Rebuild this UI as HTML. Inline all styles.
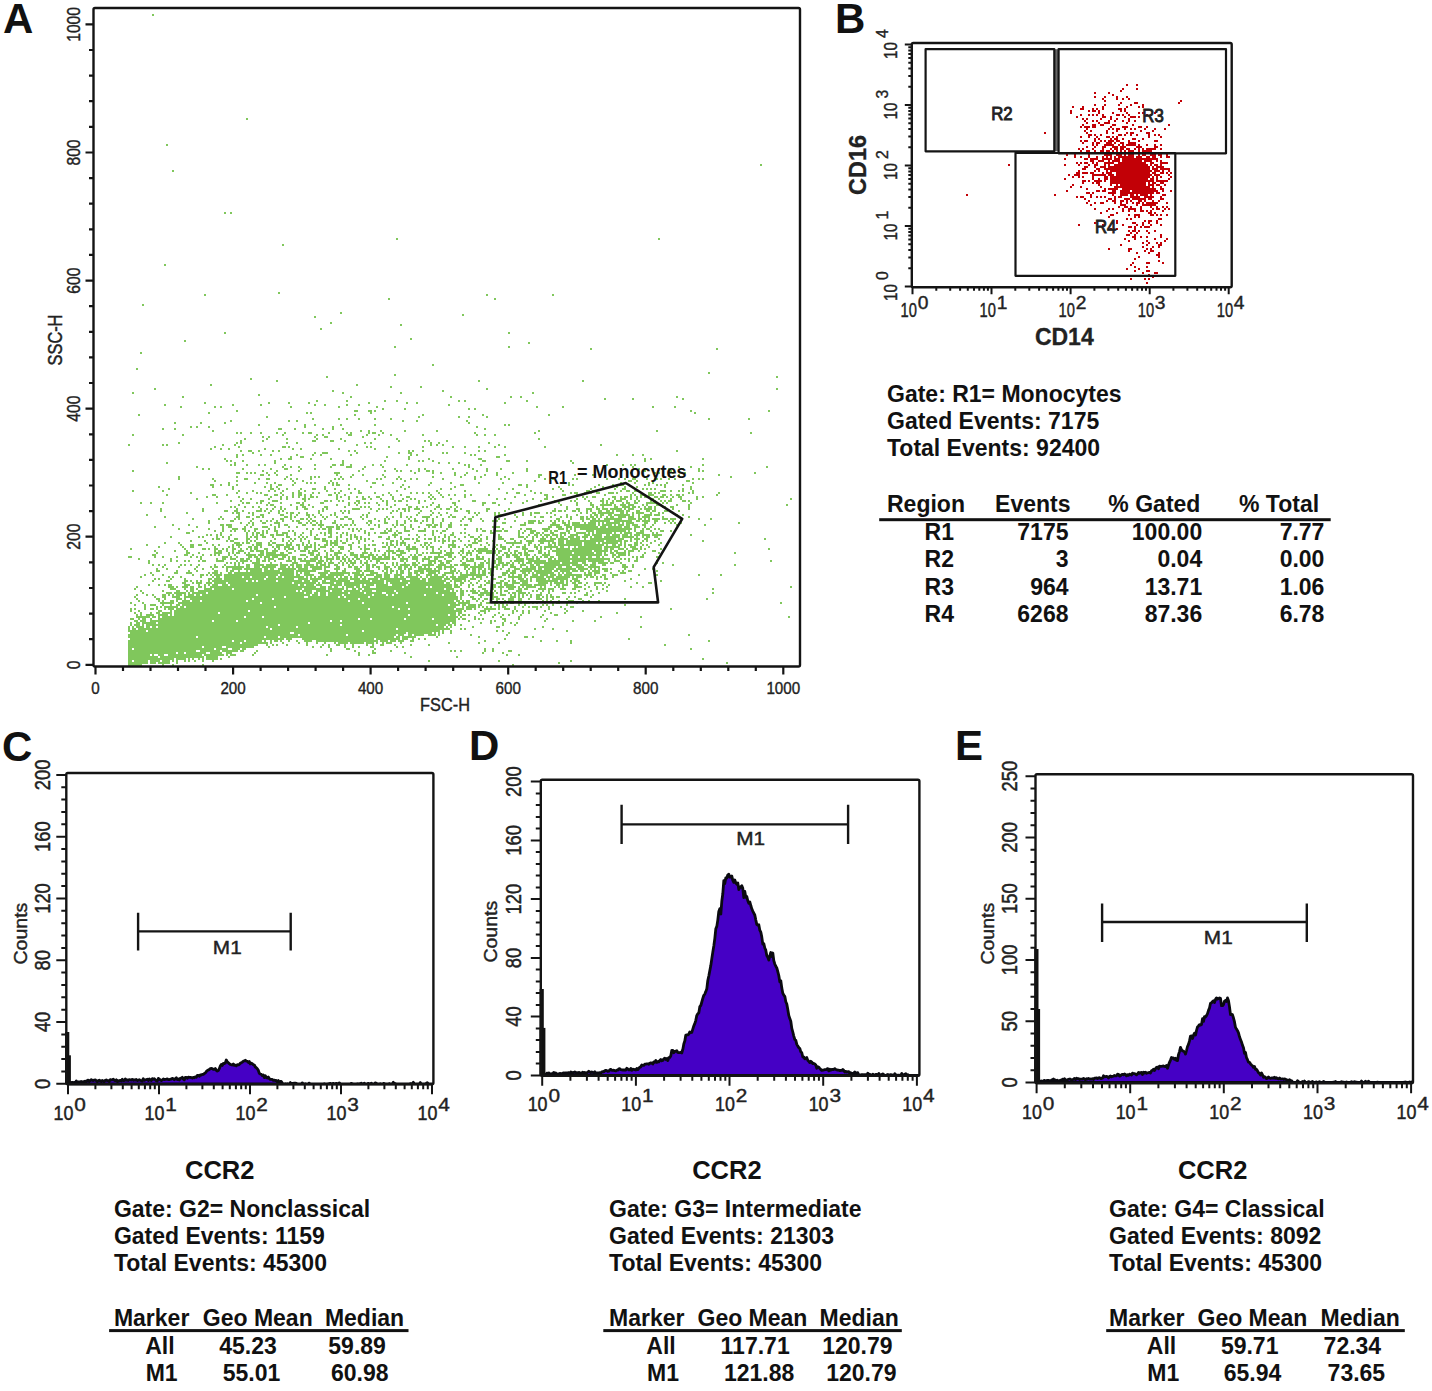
<!DOCTYPE html><html><head><meta charset="utf-8"><style>html,body{margin:0;padding:0;background:#fff;overflow:hidden}svg{display:block;font-family:"Liberation Sans",sans-serif}</style></head><body><svg width="1432" height="1391" viewBox="0 0 1432 1391" font-family="Liberation Sans, sans-serif"><rect width="1432" height="1391" fill="#fff"/><text x="3.0" y="33.3" font-size="42" font-weight="bold" text-anchor="start" fill="#111">A</text><text x="835.0" y="33.3" font-size="42" font-weight="bold" text-anchor="start" fill="#111">B</text><text x="2.0" y="760.5" font-size="42" font-weight="bold" text-anchor="start" fill="#111">C</text><text x="469.0" y="760.0" font-size="42" font-weight="bold" text-anchor="start" fill="#111">D</text><text x="955.0" y="760.0" font-size="42" font-weight="bold" text-anchor="start" fill="#111">E</text><path d="M600 526h6v2h-6zM608 526h6v2h-6zM592 528h24v2h-24zM588 530h6v2h-6zM596 530h20v2h-20zM584 532h2v2h-2zM588 532h2v2h-2zM592 532h2v2h-2zM596 532h16v2h-16zM614 532h2v2h-2zM584 534h6v2h-6zM592 534h10v2h-10zM606 534h4v2h-4zM612 534h2v2h-2zM576 536h4v2h-4zM582 536h6v2h-6zM590 536h2v2h-2zM594 536h8v2h-8zM604 536h10v2h-10zM574 538h6v2h-6zM584 538h2v2h-2zM590 538h22v2h-22zM572 540h32v2h-32zM606 540h4v2h-4zM568 542h14v2h-14zM584 542h12v2h-12zM598 542h2v2h-2zM602 542h6v2h-6zM566 544h16v2h-16zM584 544h20v2h-20zM606 544h2v2h-2zM568 546h2v2h-2zM574 546h2v2h-2zM578 546h24v2h-24zM604 546h2v2h-2zM562 548h8v2h-8zM572 548h30v2h-30zM562 550h30v2h-30zM594 550h6v2h-6zM560 552h12v2h-12zM574 552h20v2h-20zM596 552h2v2h-2zM558 554h38v2h-38zM558 556h12v2h-12zM572 556h6v2h-6zM580 556h6v2h-6zM588 556h4v2h-4zM558 558h32v2h-32zM556 560h14v2h-14zM572 560h14v2h-14zM556 562h4v2h-4zM562 562h16v2h-16zM558 564h12v2h-12zM572 564h4v2h-4zM566 566h2v2h-2zM278 568h6v2h-6zM258 570h4v2h-4zM264 570h16v2h-16zM282 570h8v2h-8zM250 572h44v2h-44zM244 574h34v2h-34zM280 574h14v2h-14zM296 574h2v2h-2zM236 576h6v2h-6zM244 576h6v2h-6zM252 576h14v2h-14zM268 576h8v2h-8zM278 576h4v2h-4zM284 576h20v2h-20zM230 578h34v2h-34zM266 578h28v2h-28zM298 578h2v2h-2zM424 578h2v2h-2zM428 578h14v2h-14zM226 580h20v2h-20zM248 580h4v2h-4zM254 580h2v2h-2zM258 580h18v2h-18zM278 580h24v2h-24zM408 580h18v2h-18zM428 580h18v2h-18zM450 580h2v2h-2zM220 582h6v2h-6zM228 582h64v2h-64zM294 582h12v2h-12zM390 582h18v2h-18zM410 582h34v2h-34zM446 582h2v2h-2zM216 584h2v2h-2zM222 584h6v2h-6zM230 584h68v2h-68zM300 584h4v2h-4zM306 584h2v2h-2zM362 584h2v2h-2zM366 584h8v2h-8zM376 584h12v2h-12zM392 584h14v2h-14zM408 584h42v2h-42zM212 586h100v2h-100zM376 586h26v2h-26zM404 586h22v2h-22zM428 586h2v2h-2zM432 586h18v2h-18zM206 588h6v2h-6zM214 588h18v2h-18zM234 588h68v2h-68zM304 588h10v2h-10zM358 588h4v2h-4zM364 588h80v2h-80zM446 588h4v2h-4zM202 590h94v2h-94zM298 590h2v2h-2zM302 590h10v2h-10zM316 590h4v2h-4zM346 590h14v2h-14zM362 590h10v2h-10zM376 590h18v2h-18zM396 590h54v2h-54zM196 592h10v2h-10zM208 592h96v2h-96zM306 592h6v2h-6zM314 592h4v2h-4zM320 592h6v2h-6zM338 592h10v2h-10zM350 592h14v2h-14zM366 592h16v2h-16zM386 592h10v2h-10zM398 592h38v2h-38zM438 592h14v2h-14zM192 594h2v2h-2zM196 594h4v2h-4zM202 594h54v2h-54zM258 594h52v2h-52zM312 594h6v2h-6zM320 594h6v2h-6zM328 594h14v2h-14zM344 594h28v2h-28zM374 594h12v2h-12zM388 594h4v2h-4zM394 594h30v2h-30zM426 594h16v2h-16zM444 594h12v2h-12zM188 596h96v2h-96zM286 596h18v2h-18zM308 596h30v2h-30zM340 596h4v2h-4zM346 596h22v2h-22zM370 596h86v2h-86zM190 598h62v2h-62zM254 598h18v2h-18zM274 598h84v2h-84zM360 598h96v2h-96zM182 600h8v2h-8zM192 600h8v2h-8zM202 600h44v2h-44zM248 600h100v2h-100zM350 600h104v2h-104zM178 602h82v2h-82zM262 602h100v2h-100zM364 602h42v2h-42zM408 602h48v2h-48zM176 604h4v2h-4zM182 604h266v2h-266zM450 604h8v2h-8zM172 606h6v2h-6zM180 606h4v2h-4zM186 606h88v2h-88zM276 606h116v2h-116zM394 606h62v2h-62zM168 608h6v2h-6zM176 608h192v2h-192zM370 608h28v2h-28zM400 608h8v2h-8zM410 608h44v2h-44zM456 608h2v2h-2zM170 610h2v2h-2zM174 610h74v2h-74zM250 610h208v2h-208zM164 612h8v2h-8zM174 612h44v2h-44zM220 612h234v2h-234zM160 614h8v2h-8zM170 614h2v2h-2zM174 614h234v2h-234zM410 614h38v2h-38zM450 614h4v2h-4zM158 616h2v2h-2zM162 616h82v2h-82zM246 616h16v2h-16zM264 616h190v2h-190zM158 618h200v2h-200zM360 618h10v2h-10zM372 618h32v2h-32zM406 618h26v2h-26zM434 618h18v2h-18zM152 620h60v2h-60zM214 620h22v2h-22zM238 620h92v2h-92zM332 620h8v2h-8zM342 620h110v2h-110zM148 622h8v2h-8zM158 622h150v2h-150zM310 622h140v2h-140zM142 624h2v2h-2zM146 624h132v2h-132zM280 624h60v2h-60zM342 624h94v2h-94zM438 624h8v2h-8zM448 624h2v2h-2zM138 626h6v2h-6zM146 626h4v2h-4zM152 626h4v2h-4zM158 626h108v2h-108zM268 626h28v2h-28zM298 626h146v2h-146zM446 626h2v2h-2zM138 628h132v2h-132zM272 628h124v2h-124zM398 628h50v2h-50zM132 630h14v2h-14zM148 630h214v2h-214zM364 630h76v2h-76zM130 632h160v2h-160zM294 632h112v2h-112zM408 632h22v2h-22zM128 634h170v2h-170zM300 634h46v2h-46zM348 634h48v2h-48zM398 634h6v2h-6zM408 634h4v2h-4zM414 634h8v2h-8zM128 636h68v2h-68zM198 636h66v2h-66zM266 636h12v2h-12zM280 636h114v2h-114zM396 636h4v2h-4zM402 636h14v2h-14zM130 638h152v2h-152zM302 638h72v2h-72zM376 638h24v2h-24zM402 638h6v2h-6zM128 640h104v2h-104zM234 640h10v2h-10zM246 640h16v2h-16zM264 640h2v2h-2zM270 640h2v2h-2zM316 640h62v2h-62zM380 640h8v2h-8zM390 640h6v2h-6zM398 640h4v2h-4zM128 642h112v2h-112zM242 642h22v2h-22zM344 642h4v2h-4zM350 642h14v2h-14zM366 642h8v2h-8zM128 644h130v2h-130zM128 646h74v2h-74zM204 646h18v2h-18zM226 646h26v2h-26zM128 648h4v2h-4zM134 648h80v2h-80zM216 648h12v2h-12zM232 648h8v2h-8zM242 648h4v2h-4zM128 650h68v2h-68zM200 650h20v2h-20zM222 650h16v2h-16zM128 652h48v2h-48zM178 652h6v2h-6zM186 652h20v2h-20zM210 652h12v2h-12zM226 652h6v2h-6zM128 654h22v2h-22zM152 654h2v2h-2zM158 654h6v2h-6zM168 654h34v2h-34zM204 654h20v2h-20zM128 656h30v2h-30zM160 656h44v2h-44zM206 656h12v2h-12zM128 658h46v2h-46zM176 658h10v2h-10zM128 660h4v2h-4zM134 660h14v2h-14zM150 660h10v2h-10zM162 660h8v2h-8zM128 662h20v2h-20zM150 662h4v2h-4zM128 664h14v2h-14z" fill="#80c75c" shape-rendering="crispEdges"/><path d="M152 14h2v2h-2zM246 118h2v2h-2zM166 144h2v2h-2zM760 164h2v2h-2zM172 170h2v2h-2zM224 212h2v2h-2zM230 212h2v2h-2zM396 238h2v2h-2zM658 238h2v2h-2zM282 244h2v2h-2zM164 264h2v2h-2zM278 292h2v2h-2zM204 294h2v2h-2zM486 294h2v2h-2zM552 294h2v2h-2zM388 298h2v2h-2zM494 298h2v2h-2zM142 304h2v2h-2zM340 312h2v2h-2zM462 314h2v2h-2zM314 316h2v2h-2zM330 322h2v2h-2zM400 324h2v2h-2zM320 328h2v2h-2zM224 332h2v2h-2zM508 332h2v2h-2zM410 338h2v2h-2zM184 340h2v2h-2zM528 342h2v2h-2zM394 346h2v2h-2zM508 346h2v2h-2zM590 348h2v2h-2zM716 348h2v2h-2zM140 352h2v2h-2zM432 364h2v2h-2zM136 368h2v2h-2zM708 372h2v2h-2zM394 374h2v2h-2zM326 376h2v2h-2zM776 376h2v2h-2zM250 378h2v2h-2zM276 380h2v2h-2zM478 380h2v2h-2zM582 380h2v2h-2zM210 384h2v2h-2zM356 384h2v2h-2zM390 386h2v2h-2zM420 386h2v2h-2zM154 388h2v2h-2zM486 388h2v2h-2zM776 388h2v2h-2zM332 390h2v2h-2zM442 390h2v2h-2zM132 392h2v2h-2zM342 392h2v2h-2zM400 392h2v2h-2zM532 392h2v2h-2zM258 394h2v2h-2zM182 396h2v2h-2zM350 396h2v2h-2zM450 396h2v2h-2zM510 396h2v2h-2zM520 396h2v2h-2zM676 396h2v2h-2zM604 398h2v2h-2zM632 398h2v2h-2zM682 398h2v2h-2zM316 400h2v2h-2zM346 400h2v2h-2zM384 400h2v2h-2zM396 400h2v2h-2zM458 400h2v2h-2zM464 400h2v2h-2zM526 400h2v2h-2zM204 402h2v2h-2zM268 402h2v2h-2zM288 402h2v2h-2zM308 402h2v2h-2zM368 402h2v2h-2zM406 402h2v2h-2zM416 402h2v2h-2zM504 402h2v2h-2zM164 404h2v2h-2zM232 404h2v2h-2zM260 404h2v2h-2zM314 404h2v2h-2zM324 404h2v2h-2zM346 404h2v2h-2zM358 404h2v2h-2zM448 404h2v2h-2zM180 406h2v2h-2zM214 406h2v2h-2zM220 406h2v2h-2zM290 406h2v2h-2zM338 406h2v2h-2zM376 406h2v2h-2zM536 406h2v2h-2zM562 406h2v2h-2zM652 406h2v2h-2zM674 406h2v2h-2zM382 408h2v2h-2zM404 408h2v2h-2zM468 408h2v2h-2zM474 408h2v2h-2zM236 410h2v2h-2zM354 410h4v2h-4zM368 410h4v2h-4zM374 410h2v2h-2zM690 410h2v2h-2zM768 410h2v2h-2zM208 412h2v2h-2zM306 412h2v2h-2zM310 412h2v2h-2zM370 412h2v2h-2zM694 412h2v2h-2zM138 414h2v2h-2zM354 414h2v2h-2zM422 414h2v2h-2zM482 414h2v2h-2zM548 414h2v2h-2zM266 416h2v2h-2zM418 416h2v2h-2zM458 416h2v2h-2zM468 416h2v2h-2zM486 416h2v2h-2zM312 418h2v2h-2zM338 418h2v2h-2zM346 418h2v2h-2zM358 418h2v2h-2zM374 418h2v2h-2zM390 418h2v2h-2zM708 418h2v2h-2zM748 418h2v2h-2zM230 420h2v2h-2zM288 420h2v2h-2zM296 420h2v2h-2zM402 420h2v2h-2zM416 420h2v2h-2zM466 420h2v2h-2zM174 422h2v2h-2zM200 422h2v2h-2zM224 422h2v2h-2zM468 422h2v2h-2zM258 424h2v2h-2zM304 424h2v2h-2zM314 424h2v2h-2zM340 424h2v2h-2zM374 424h2v2h-2zM504 424h2v2h-2zM508 424h2v2h-2zM190 426h2v2h-2zM196 426h2v2h-2zM208 426h2v2h-2zM304 426h2v2h-2zM332 426h2v2h-2zM476 426h2v2h-2zM162 428h2v2h-2zM174 428h2v2h-2zM278 428h4v2h-4zM294 428h2v2h-2zM322 428h2v2h-2zM332 428h2v2h-2zM342 428h2v2h-2zM484 428h2v2h-2zM212 430h2v2h-2zM360 430h2v2h-2zM368 430h2v2h-2zM380 430h2v2h-2zM404 430h2v2h-2zM436 430h2v2h-2zM538 430h2v2h-2zM656 430h2v2h-2zM236 432h2v2h-2zM240 432h2v2h-2zM250 432h2v2h-2zM260 432h2v2h-2zM276 432h2v2h-2zM284 432h2v2h-2zM302 432h2v2h-2zM308 432h4v2h-4zM328 432h2v2h-2zM346 432h2v2h-2zM350 432h2v2h-2zM368 432h2v2h-2zM372 432h4v2h-4zM382 432h2v2h-2zM474 432h2v2h-2zM534 432h2v2h-2zM750 432h2v2h-2zM132 434h2v2h-2zM182 434h2v2h-2zM282 434h2v2h-2zM316 434h2v2h-2zM322 434h2v2h-2zM348 434h4v2h-4zM366 434h2v2h-2zM378 434h2v2h-2zM390 434h2v2h-2zM422 434h2v2h-2zM476 434h2v2h-2zM484 434h2v2h-2zM494 434h2v2h-2zM262 436h2v2h-2zM268 436h2v2h-2zM314 436h2v2h-2zM324 436h4v2h-4zM362 436h2v2h-2zM244 438h2v2h-2zM266 438h2v2h-2zM286 438h2v2h-2zM316 438h2v2h-2zM340 438h2v2h-2zM374 438h2v2h-2zM396 438h2v2h-2zM538 438h2v2h-2zM240 440h2v2h-2zM262 440h2v2h-2zM312 440h4v2h-4zM330 440h4v2h-4zM344 440h2v2h-2zM398 440h2v2h-2zM424 440h2v2h-2zM428 440h2v2h-2zM446 440h2v2h-2zM178 442h2v2h-2zM236 442h2v2h-2zM240 442h2v2h-2zM286 442h2v2h-2zM296 442h2v2h-2zM364 442h2v2h-2zM370 442h2v2h-2zM430 442h2v2h-2zM438 442h2v2h-2zM488 442h2v2h-2zM128 444h2v2h-2zM162 444h2v2h-2zM166 444h2v2h-2zM222 444h2v2h-2zM234 444h2v2h-2zM356 444h2v2h-2zM430 444h2v2h-2zM436 444h2v2h-2zM442 444h2v2h-2zM498 444h2v2h-2zM600 444h2v2h-2zM214 446h2v2h-2zM238 446h2v2h-2zM282 446h4v2h-4zM288 446h2v2h-2zM366 446h2v2h-2zM370 446h2v2h-2zM388 446h2v2h-2zM422 446h2v2h-2zM452 446h2v2h-2zM464 446h2v2h-2zM478 446h2v2h-2zM494 446h2v2h-2zM504 446h2v2h-2zM544 446h2v2h-2zM210 448h2v2h-2zM220 448h2v2h-2zM228 448h2v2h-2zM264 448h2v2h-2zM292 448h2v2h-2zM300 448h2v2h-2zM338 448h2v2h-2zM374 448h2v2h-2zM240 450h2v2h-2zM248 450h4v2h-4zM258 450h2v2h-2zM272 450h2v2h-2zM278 450h2v2h-2zM348 450h2v2h-2zM354 450h2v2h-2zM408 450h2v2h-2zM412 450h2v2h-2zM422 450h2v2h-2zM478 450h2v2h-2zM484 450h2v2h-2zM676 450h2v2h-2zM252 452h2v2h-2zM314 452h2v2h-2zM322 452h6v2h-6zM356 452h2v2h-2zM398 452h2v2h-2zM408 452h4v2h-4zM442 452h2v2h-2zM446 452h2v2h-2zM464 452h2v2h-2zM236 454h2v2h-2zM242 454h2v2h-2zM260 454h2v2h-2zM270 454h2v2h-2zM296 454h2v2h-2zM312 454h2v2h-2zM320 454h2v2h-2zM350 454h2v2h-2zM410 454h2v2h-2zM416 454h2v2h-2zM470 454h2v2h-2zM474 454h2v2h-2zM504 454h2v2h-2zM616 454h2v2h-2zM632 454h2v2h-2zM642 454h2v2h-2zM236 456h2v2h-2zM290 456h2v2h-2zM300 456h4v2h-4zM386 456h2v2h-2zM408 456h2v2h-2zM496 456h4v2h-4zM224 458h2v2h-2zM280 458h2v2h-2zM288 458h4v2h-4zM310 458h2v2h-2zM330 458h2v2h-2zM408 458h2v2h-2zM428 458h2v2h-2zM478 458h4v2h-4zM644 458h2v2h-2zM650 458h2v2h-2zM702 458h2v2h-2zM226 460h2v2h-2zM230 460h2v2h-2zM242 460h2v2h-2zM274 460h2v2h-2zM342 460h2v2h-2zM384 460h2v2h-2zM418 460h2v2h-2zM422 460h2v2h-2zM432 460h2v2h-2zM482 460h4v2h-4zM506 460h4v2h-4zM526 460h2v2h-2zM570 460h2v2h-2zM644 460h2v2h-2zM166 462h2v2h-2zM234 462h2v2h-2zM274 462h2v2h-2zM342 462h2v2h-2zM438 462h2v2h-2zM448 462h2v2h-2zM458 462h2v2h-2zM572 462h2v2h-2zM230 464h2v2h-2zM234 464h2v2h-2zM246 464h2v2h-2zM258 464h2v2h-2zM264 464h2v2h-2zM284 464h2v2h-2zM314 464h2v2h-2zM332 464h4v2h-4zM340 464h4v2h-4zM350 464h2v2h-2zM372 464h2v2h-2zM380 464h2v2h-2zM406 464h2v2h-2zM464 464h2v2h-2zM468 464h2v2h-2zM480 464h2v2h-2zM606 464h2v2h-2zM622 464h2v2h-2zM630 464h2v2h-2zM634 464h2v2h-2zM702 464h2v2h-2zM196 466h2v2h-2zM282 466h2v2h-2zM290 466h2v2h-2zM298 466h2v2h-2zM330 466h2v2h-2zM346 466h6v2h-6zM364 466h2v2h-2zM382 466h2v2h-2zM468 466h2v2h-2zM632 466h2v2h-2zM678 466h2v2h-2zM690 466h2v2h-2zM766 466h2v2h-2zM202 468h2v2h-2zM208 468h2v2h-2zM242 468h2v2h-2zM270 468h2v2h-2zM284 468h4v2h-4zM300 468h2v2h-2zM314 468h2v2h-2zM362 468h2v2h-2zM394 468h2v2h-2zM418 468h2v2h-2zM424 468h2v2h-2zM452 468h2v2h-2zM472 468h2v2h-2zM486 468h2v2h-2zM500 468h2v2h-2zM526 468h2v2h-2zM638 468h2v2h-2zM644 468h2v2h-2zM652 468h2v2h-2zM668 468h2v2h-2zM682 468h2v2h-2zM698 468h2v2h-2zM132 470h2v2h-2zM262 470h2v2h-2zM276 470h2v2h-2zM298 470h2v2h-2zM358 470h2v2h-2zM384 470h2v2h-2zM396 470h2v2h-2zM400 470h2v2h-2zM410 470h2v2h-2zM418 470h2v2h-2zM426 470h4v2h-4zM432 470h2v2h-2zM476 470h2v2h-2zM486 470h2v2h-2zM526 470h2v2h-2zM642 470h4v2h-4zM668 470h4v2h-4zM698 470h2v2h-2zM702 470h2v2h-2zM236 472h4v2h-4zM246 472h2v2h-2zM250 472h2v2h-2zM254 472h2v2h-2zM266 472h2v2h-2zM274 472h2v2h-2zM334 472h6v2h-6zM414 472h2v2h-2zM432 472h2v2h-2zM440 472h2v2h-2zM454 472h2v2h-2zM466 472h2v2h-2zM496 472h2v2h-2zM512 472h2v2h-2zM630 472h2v2h-2zM654 472h2v2h-2zM658 472h2v2h-2zM672 472h2v2h-2zM684 472h2v2h-2zM754 472h2v2h-2zM260 474h4v2h-4zM268 474h2v2h-2zM276 474h2v2h-2zM290 474h2v2h-2zM336 474h2v2h-2zM352 474h2v2h-2zM362 474h2v2h-2zM382 474h2v2h-2zM454 474h2v2h-2zM464 474h2v2h-2zM484 474h2v2h-2zM496 474h2v2h-2zM538 474h4v2h-4zM574 474h2v2h-2zM592 474h2v2h-2zM668 474h2v2h-2zM678 474h2v2h-2zM718 474h2v2h-2zM178 476h2v2h-2zM236 476h2v2h-2zM286 476h2v2h-2zM310 476h2v2h-2zM314 476h2v2h-2zM318 476h2v2h-2zM340 476h2v2h-2zM350 476h2v2h-2zM384 476h2v2h-2zM398 476h2v2h-2zM432 476h2v2h-2zM460 476h2v2h-2zM474 476h2v2h-2zM480 476h2v2h-2zM504 476h2v2h-2zM538 476h2v2h-2zM644 476h2v2h-2zM730 476h2v2h-2zM178 478h2v2h-2zM212 478h2v2h-2zM244 478h4v2h-4zM258 478h2v2h-2zM266 478h4v2h-4zM284 478h2v2h-2zM290 478h2v2h-2zM296 478h2v2h-2zM310 478h2v2h-2zM334 478h2v2h-2zM338 478h2v2h-2zM342 478h2v2h-2zM376 478h2v2h-2zM380 478h2v2h-2zM396 478h2v2h-2zM400 478h2v2h-2zM410 478h2v2h-2zM416 478h2v2h-2zM442 478h2v2h-2zM474 478h2v2h-2zM500 478h2v2h-2zM508 478h2v2h-2zM544 478h2v2h-2zM552 478h2v2h-2zM572 478h2v2h-2zM576 478h2v2h-2zM606 478h2v2h-2zM618 478h2v2h-2zM624 478h2v2h-2zM632 478h4v2h-4zM646 478h2v2h-2zM654 478h4v2h-4zM660 478h2v2h-2zM668 478h2v2h-2zM674 478h2v2h-2zM692 478h2v2h-2zM698 478h2v2h-2zM702 478h2v2h-2zM214 480h2v2h-2zM236 480h2v2h-2zM292 480h2v2h-2zM302 480h2v2h-2zM330 480h2v2h-2zM366 480h2v2h-2zM404 480h2v2h-2zM534 480h2v2h-2zM628 480h4v2h-4zM636 480h2v2h-2zM686 480h4v2h-4zM228 482h2v2h-2zM254 482h2v2h-2zM266 482h2v2h-2zM274 482h2v2h-2zM294 482h2v2h-2zM306 482h2v2h-2zM310 482h2v2h-2zM314 482h2v2h-2zM328 482h2v2h-2zM332 482h2v2h-2zM336 482h2v2h-2zM372 482h4v2h-4zM392 482h2v2h-2zM430 482h2v2h-2zM450 482h2v2h-2zM478 482h2v2h-2zM502 482h2v2h-2zM568 482h2v2h-2zM620 482h2v2h-2zM634 482h2v2h-2zM648 482h2v2h-2zM652 482h2v2h-2zM666 482h2v2h-2zM692 482h2v2h-2zM210 484h4v2h-4zM220 484h2v2h-2zM228 484h2v2h-2zM236 484h2v2h-2zM270 484h2v2h-2zM278 484h4v2h-4zM292 484h2v2h-2zM332 484h2v2h-2zM336 484h4v2h-4zM348 484h2v2h-2zM382 484h2v2h-2zM402 484h2v2h-2zM428 484h2v2h-2zM460 484h4v2h-4zM518 484h4v2h-4zM526 484h2v2h-2zM568 484h2v2h-2zM572 484h2v2h-2zM598 484h2v2h-2zM612 484h2v2h-2zM620 484h4v2h-4zM644 484h2v2h-2zM648 484h2v2h-2zM656 484h2v2h-2zM660 484h2v2h-2zM664 484h2v2h-2zM682 484h2v2h-2zM158 486h2v2h-2zM212 486h2v2h-2zM232 486h2v2h-2zM264 486h2v2h-2zM270 486h2v2h-2zM276 486h2v2h-2zM324 486h2v2h-2zM370 486h2v2h-2zM400 486h2v2h-2zM408 486h2v2h-2zM454 486h2v2h-2zM526 486h2v2h-2zM558 486h2v2h-2zM594 486h2v2h-2zM602 486h2v2h-2zM616 486h2v2h-2zM624 486h2v2h-2zM636 486h2v2h-2zM664 486h2v2h-2zM690 486h2v2h-2zM168 488h2v2h-2zM232 488h2v2h-2zM270 488h4v2h-4zM278 488h2v2h-2zM286 488h2v2h-2zM300 488h2v2h-2zM312 488h4v2h-4zM324 488h2v2h-2zM334 488h2v2h-2zM348 488h2v2h-2zM354 488h2v2h-2zM404 488h2v2h-2zM440 488h2v2h-2zM450 488h2v2h-2zM498 488h2v2h-2zM512 488h2v2h-2zM552 488h2v2h-2zM560 488h2v2h-2zM590 488h2v2h-2zM614 488h2v2h-2zM622 488h4v2h-4zM642 488h2v2h-2zM646 488h2v2h-2zM650 488h2v2h-2zM654 488h2v2h-2zM682 488h2v2h-2zM690 488h2v2h-2zM132 490h2v2h-2zM162 490h2v2h-2zM238 490h2v2h-2zM252 490h2v2h-2zM268 490h2v2h-2zM274 490h2v2h-2zM282 490h2v2h-2zM298 490h2v2h-2zM304 490h2v2h-2zM326 490h2v2h-2zM340 490h2v2h-2zM358 490h2v2h-2zM396 490h2v2h-2zM436 490h2v2h-2zM464 490h2v2h-2zM530 490h2v2h-2zM562 490h2v2h-2zM586 490h4v2h-4zM592 490h2v2h-2zM620 490h2v2h-2zM626 490h4v2h-4zM634 490h4v2h-4zM660 490h6v2h-6zM670 490h2v2h-2zM678 490h2v2h-2zM682 490h2v2h-2zM692 490h2v2h-2zM190 492h2v2h-2zM236 492h2v2h-2zM246 492h2v2h-2zM256 492h2v2h-2zM260 492h2v2h-2zM280 492h2v2h-2zM292 492h2v2h-2zM298 492h4v2h-4zM312 492h2v2h-2zM318 492h2v2h-2zM334 492h2v2h-2zM338 492h2v2h-2zM350 492h2v2h-2zM358 492h4v2h-4zM374 492h2v2h-2zM388 492h2v2h-2zM410 492h2v2h-2zM416 492h2v2h-2zM422 492h2v2h-2zM428 492h2v2h-2zM438 492h2v2h-2zM506 492h2v2h-2zM516 492h4v2h-4zM534 492h2v2h-2zM540 492h2v2h-2zM570 492h2v2h-2zM574 492h4v2h-4zM584 492h2v2h-2zM590 492h2v2h-2zM596 492h4v2h-4zM608 492h6v2h-6zM616 492h2v2h-2zM632 492h2v2h-2zM648 492h4v2h-4zM654 492h2v2h-2zM658 492h2v2h-2zM688 492h2v2h-2zM692 492h2v2h-2zM718 492h2v2h-2zM166 494h2v2h-2zM212 494h4v2h-4zM226 494h2v2h-2zM264 494h4v2h-4zM274 494h4v2h-4zM282 494h2v2h-2zM292 494h2v2h-2zM298 494h4v2h-4zM304 494h2v2h-2zM310 494h2v2h-2zM328 494h4v2h-4zM336 494h2v2h-2zM344 494h2v2h-2zM382 494h2v2h-2zM390 494h2v2h-2zM400 494h2v2h-2zM430 494h2v2h-2zM440 494h2v2h-2zM448 494h2v2h-2zM454 494h2v2h-2zM464 494h2v2h-2zM470 494h2v2h-2zM488 494h2v2h-2zM524 494h2v2h-2zM544 494h4v2h-4zM562 494h4v2h-4zM576 494h2v2h-2zM604 494h2v2h-2zM630 494h2v2h-2zM634 494h2v2h-2zM640 494h6v2h-6zM648 494h6v2h-6zM662 494h4v2h-4zM670 494h2v2h-2zM676 494h4v2h-4zM682 494h2v2h-2zM716 494h2v2h-2zM206 496h2v2h-2zM216 496h2v2h-2zM238 496h2v2h-2zM270 496h2v2h-2zM280 496h2v2h-2zM286 496h2v2h-2zM292 496h2v2h-2zM298 496h2v2h-2zM304 496h2v2h-2zM310 496h4v2h-4zM316 496h2v2h-2zM336 496h2v2h-2zM340 496h2v2h-2zM348 496h2v2h-2zM356 496h2v2h-2zM362 496h2v2h-2zM368 496h2v2h-2zM376 496h4v2h-4zM392 496h2v2h-2zM406 496h4v2h-4zM428 496h2v2h-2zM432 496h2v2h-2zM442 496h2v2h-2zM464 496h2v2h-2zM514 496h2v2h-2zM546 496h2v2h-2zM552 496h2v2h-2zM582 496h2v2h-2zM586 496h2v2h-2zM592 496h4v2h-4zM612 496h4v2h-4zM620 496h2v2h-2zM624 496h4v2h-4zM630 496h2v2h-2zM636 496h2v2h-2zM640 496h2v2h-2zM644 496h6v2h-6zM654 496h4v2h-4zM660 496h4v2h-4zM666 496h2v2h-2zM672 496h2v2h-2zM678 496h4v2h-4zM696 496h2v2h-2zM702 496h2v2h-2zM196 498h2v2h-2zM242 498h2v2h-2zM250 498h2v2h-2zM268 498h2v2h-2zM280 498h2v2h-2zM286 498h2v2h-2zM302 498h4v2h-4zM308 498h2v2h-2zM336 498h2v2h-2zM348 498h2v2h-2zM362 498h4v2h-4zM370 498h2v2h-2zM380 498h2v2h-2zM392 498h2v2h-2zM402 498h2v2h-2zM410 498h2v2h-2zM414 498h2v2h-2zM430 498h2v2h-2zM434 498h2v2h-2zM450 498h2v2h-2zM496 498h2v2h-2zM504 498h2v2h-2zM532 498h2v2h-2zM544 498h4v2h-4zM576 498h2v2h-2zM584 498h2v2h-2zM602 498h2v2h-2zM608 498h2v2h-2zM614 498h2v2h-2zM620 498h6v2h-6zM630 498h2v2h-2zM636 498h2v2h-2zM652 498h2v2h-2zM658 498h2v2h-2zM670 498h2v2h-2zM680 498h2v2h-2zM696 498h2v2h-2zM790 498h2v2h-2zM230 500h2v2h-2zM240 500h2v2h-2zM260 500h4v2h-4zM272 500h6v2h-6zM304 500h2v2h-2zM324 500h4v2h-4zM330 500h2v2h-2zM338 500h2v2h-2zM342 500h2v2h-2zM356 500h4v2h-4zM382 500h2v2h-2zM386 500h2v2h-2zM394 500h2v2h-2zM398 500h4v2h-4zM406 500h2v2h-2zM418 500h2v2h-2zM424 500h2v2h-2zM458 500h2v2h-2zM472 500h4v2h-4zM526 500h2v2h-2zM540 500h2v2h-2zM554 500h2v2h-2zM570 500h2v2h-2zM574 500h2v2h-2zM588 500h2v2h-2zM600 500h4v2h-4zM606 500h2v2h-2zM612 500h2v2h-2zM616 500h6v2h-6zM626 500h2v2h-2zM634 500h2v2h-2zM638 500h2v2h-2zM650 500h2v2h-2zM654 500h2v2h-2zM660 500h2v2h-2zM664 500h2v2h-2zM668 500h4v2h-4zM682 500h4v2h-4zM688 500h2v2h-2zM140 502h2v2h-2zM150 502h2v2h-2zM162 502h2v2h-2zM216 502h2v2h-2zM242 502h2v2h-2zM246 502h4v2h-4zM256 502h2v2h-2zM260 502h2v2h-2zM268 502h2v2h-2zM280 502h2v2h-2zM296 502h4v2h-4zM302 502h2v2h-2zM320 502h4v2h-4zM348 502h2v2h-2zM354 502h2v2h-2zM358 502h2v2h-2zM364 502h2v2h-2zM368 502h2v2h-2zM376 502h2v2h-2zM386 502h2v2h-2zM418 502h2v2h-2zM432 502h2v2h-2zM452 502h4v2h-4zM482 502h4v2h-4zM492 502h4v2h-4zM510 502h2v2h-2zM522 502h2v2h-2zM558 502h2v2h-2zM576 502h2v2h-2zM590 502h2v2h-2zM602 502h2v2h-2zM606 502h2v2h-2zM610 502h4v2h-4zM622 502h2v2h-2zM626 502h4v2h-4zM634 502h4v2h-4zM646 502h12v2h-12zM662 502h2v2h-2zM666 502h2v2h-2zM690 502h2v2h-2zM238 504h2v2h-2zM266 504h2v2h-2zM270 504h4v2h-4zM290 504h2v2h-2zM300 504h4v2h-4zM308 504h2v2h-2zM336 504h2v2h-2zM348 504h2v2h-2zM356 504h2v2h-2zM378 504h2v2h-2zM386 504h2v2h-2zM394 504h2v2h-2zM406 504h2v2h-2zM430 504h2v2h-2zM438 504h2v2h-2zM454 504h2v2h-2zM482 504h2v2h-2zM498 504h2v2h-2zM538 504h2v2h-2zM560 504h2v2h-2zM576 504h2v2h-2zM590 504h4v2h-4zM600 504h12v2h-12zM614 504h2v2h-2zM620 504h6v2h-6zM628 504h6v2h-6zM642 504h2v2h-2zM646 504h2v2h-2zM656 504h6v2h-6zM676 504h2v2h-2zM688 504h2v2h-2zM786 504h2v2h-2zM230 506h2v2h-2zM234 506h2v2h-2zM244 506h2v2h-2zM252 506h2v2h-2zM258 506h2v2h-2zM274 506h2v2h-2zM280 506h2v2h-2zM296 506h2v2h-2zM302 506h4v2h-4zM312 506h2v2h-2zM324 506h4v2h-4zM344 506h2v2h-2zM360 506h2v2h-2zM364 506h2v2h-2zM368 506h2v2h-2zM390 506h2v2h-2zM408 506h4v2h-4zM416 506h2v2h-2zM422 506h2v2h-2zM426 506h2v2h-2zM436 506h4v2h-4zM450 506h2v2h-2zM456 506h2v2h-2zM566 506h2v2h-2zM592 506h2v2h-2zM596 506h2v2h-2zM602 506h2v2h-2zM614 506h4v2h-4zM622 506h8v2h-8zM632 506h4v2h-4zM638 506h2v2h-2zM644 506h2v2h-2zM648 506h4v2h-4zM654 506h2v2h-2zM662 506h4v2h-4zM670 506h4v2h-4zM688 506h2v2h-2zM160 508h2v2h-2zM202 508h2v2h-2zM236 508h2v2h-2zM260 508h2v2h-2zM266 508h2v2h-2zM272 508h2v2h-2zM280 508h2v2h-2zM284 508h2v2h-2zM296 508h2v2h-2zM304 508h4v2h-4zM322 508h2v2h-2zM326 508h2v2h-2zM352 508h8v2h-8zM370 508h2v2h-2zM378 508h2v2h-2zM382 508h2v2h-2zM386 508h2v2h-2zM398 508h2v2h-2zM402 508h4v2h-4zM408 508h2v2h-2zM414 508h6v2h-6zM434 508h2v2h-2zM440 508h2v2h-2zM446 508h4v2h-4zM454 508h2v2h-2zM460 508h2v2h-2zM486 508h4v2h-4zM508 508h2v2h-2zM554 508h2v2h-2zM566 508h2v2h-2zM576 508h4v2h-4zM586 508h6v2h-6zM596 508h4v2h-4zM602 508h6v2h-6zM610 508h12v2h-12zM624 508h2v2h-2zM628 508h6v2h-6zM640 508h2v2h-2zM644 508h8v2h-8zM654 508h2v2h-2zM672 508h2v2h-2zM688 508h2v2h-2zM160 510h2v2h-2zM202 510h2v2h-2zM224 510h4v2h-4zM234 510h4v2h-4zM242 510h2v2h-2zM256 510h6v2h-6zM264 510h2v2h-2zM270 510h2v2h-2zM278 510h2v2h-2zM282 510h2v2h-2zM318 510h2v2h-2zM322 510h2v2h-2zM340 510h2v2h-2zM344 510h2v2h-2zM348 510h2v2h-2zM376 510h2v2h-2zM392 510h2v2h-2zM396 510h2v2h-2zM404 510h2v2h-2zM408 510h2v2h-2zM420 510h2v2h-2zM430 510h2v2h-2zM454 510h4v2h-4zM466 510h4v2h-4zM486 510h2v2h-2zM504 510h2v2h-2zM552 510h4v2h-4zM558 510h4v2h-4zM564 510h2v2h-2zM572 510h4v2h-4zM578 510h2v2h-2zM586 510h2v2h-2zM590 510h2v2h-2zM598 510h4v2h-4zM606 510h4v2h-4zM612 510h2v2h-2zM616 510h8v2h-8zM626 510h4v2h-4zM636 510h4v2h-4zM646 510h4v2h-4zM652 510h4v2h-4zM664 510h4v2h-4zM678 510h2v2h-2zM186 512h2v2h-2zM232 512h2v2h-2zM236 512h4v2h-4zM248 512h2v2h-2zM252 512h2v2h-2zM268 512h2v2h-2zM278 512h2v2h-2zM286 512h2v2h-2zM290 512h4v2h-4zM298 512h2v2h-2zM306 512h2v2h-2zM318 512h2v2h-2zM334 512h2v2h-2zM342 512h2v2h-2zM348 512h2v2h-2zM368 512h2v2h-2zM390 512h2v2h-2zM400 512h2v2h-2zM418 512h2v2h-2zM432 512h2v2h-2zM438 512h2v2h-2zM446 512h2v2h-2zM468 512h2v2h-2zM474 512h2v2h-2zM478 512h2v2h-2zM494 512h2v2h-2zM498 512h2v2h-2zM522 512h2v2h-2zM530 512h2v2h-2zM534 512h6v2h-6zM546 512h2v2h-2zM550 512h2v2h-2zM580 512h2v2h-2zM586 512h2v2h-2zM592 512h4v2h-4zM598 512h16v2h-16zM620 512h4v2h-4zM626 512h2v2h-2zM632 512h2v2h-2zM636 512h8v2h-8zM650 512h2v2h-2zM658 512h2v2h-2zM662 512h2v2h-2zM146 514h2v2h-2zM238 514h2v2h-2zM252 514h2v2h-2zM260 514h4v2h-4zM280 514h4v2h-4zM290 514h2v2h-2zM296 514h2v2h-2zM306 514h4v2h-4zM312 514h2v2h-2zM320 514h2v2h-2zM330 514h2v2h-2zM334 514h2v2h-2zM362 514h2v2h-2zM366 514h2v2h-2zM400 514h2v2h-2zM416 514h2v2h-2zM430 514h2v2h-2zM440 514h2v2h-2zM450 514h2v2h-2zM476 514h2v2h-2zM494 514h2v2h-2zM498 514h4v2h-4zM504 514h2v2h-2zM514 514h2v2h-2zM522 514h2v2h-2zM530 514h2v2h-2zM554 514h2v2h-2zM566 514h2v2h-2zM576 514h2v2h-2zM590 514h2v2h-2zM594 514h4v2h-4zM600 514h4v2h-4zM608 514h4v2h-4zM614 514h16v2h-16zM632 514h2v2h-2zM638 514h2v2h-2zM644 514h8v2h-8zM654 514h6v2h-6zM676 514h2v2h-2zM682 514h2v2h-2zM164 516h2v2h-2zM220 516h2v2h-2zM236 516h4v2h-4zM246 516h4v2h-4zM256 516h4v2h-4zM262 516h2v2h-2zM284 516h4v2h-4zM290 516h2v2h-2zM294 516h2v2h-2zM308 516h2v2h-2zM314 516h2v2h-2zM322 516h2v2h-2zM326 516h2v2h-2zM336 516h2v2h-2zM344 516h4v2h-4zM360 516h2v2h-2zM366 516h2v2h-2zM386 516h2v2h-2zM392 516h2v2h-2zM400 516h2v2h-2zM406 516h2v2h-2zM410 516h2v2h-2zM422 516h8v2h-8zM436 516h2v2h-2zM448 516h2v2h-2zM452 516h4v2h-4zM464 516h2v2h-2zM472 516h2v2h-2zM516 516h2v2h-2zM534 516h2v2h-2zM540 516h4v2h-4zM550 516h2v2h-2zM560 516h2v2h-2zM566 516h2v2h-2zM570 516h2v2h-2zM580 516h4v2h-4zM586 516h2v2h-2zM590 516h4v2h-4zM596 516h2v2h-2zM600 516h2v2h-2zM606 516h2v2h-2zM610 516h4v2h-4zM618 516h8v2h-8zM628 516h6v2h-6zM638 516h2v2h-2zM642 516h8v2h-8zM662 516h2v2h-2zM688 516h2v2h-2zM192 518h2v2h-2zM218 518h2v2h-2zM222 518h2v2h-2zM234 518h2v2h-2zM238 518h2v2h-2zM252 518h2v2h-2zM272 518h2v2h-2zM280 518h4v2h-4zM290 518h2v2h-2zM300 518h4v2h-4zM306 518h2v2h-2zM310 518h2v2h-2zM324 518h2v2h-2zM340 518h4v2h-4zM348 518h4v2h-4zM362 518h2v2h-2zM374 518h2v2h-2zM384 518h2v2h-2zM388 518h2v2h-2zM408 518h2v2h-2zM414 518h2v2h-2zM426 518h2v2h-2zM432 518h2v2h-2zM442 518h2v2h-2zM462 518h2v2h-2zM468 518h4v2h-4zM480 518h2v2h-2zM494 518h2v2h-2zM498 518h2v2h-2zM504 518h2v2h-2zM556 518h4v2h-4zM570 518h2v2h-2zM580 518h4v2h-4zM586 518h4v2h-4zM592 518h4v2h-4zM598 518h2v2h-2zM604 518h18v2h-18zM628 518h8v2h-8zM638 518h4v2h-4zM644 518h2v2h-2zM648 518h2v2h-2zM652 518h8v2h-8zM662 518h6v2h-6zM670 518h6v2h-6zM680 518h2v2h-2zM698 518h2v2h-2zM710 518h2v2h-2zM208 520h2v2h-2zM230 520h4v2h-4zM250 520h2v2h-2zM260 520h2v2h-2zM266 520h2v2h-2zM270 520h2v2h-2zM276 520h2v2h-2zM282 520h2v2h-2zM292 520h2v2h-2zM296 520h4v2h-4zM308 520h2v2h-2zM312 520h4v2h-4zM320 520h2v2h-2zM334 520h2v2h-2zM352 520h2v2h-2zM368 520h4v2h-4zM378 520h2v2h-2zM384 520h2v2h-2zM396 520h2v2h-2zM404 520h2v2h-2zM410 520h2v2h-2zM414 520h4v2h-4zM422 520h2v2h-2zM426 520h2v2h-2zM432 520h2v2h-2zM442 520h2v2h-2zM460 520h2v2h-2zM470 520h2v2h-2zM482 520h2v2h-2zM492 520h2v2h-2zM496 520h2v2h-2zM514 520h2v2h-2zM528 520h8v2h-8zM538 520h2v2h-2zM542 520h2v2h-2zM550 520h2v2h-2zM554 520h2v2h-2zM558 520h2v2h-2zM562 520h2v2h-2zM568 520h2v2h-2zM582 520h2v2h-2zM590 520h20v2h-20zM614 520h18v2h-18zM636 520h4v2h-4zM642 520h8v2h-8zM654 520h4v2h-4zM668 520h2v2h-2zM672 520h2v2h-2zM208 522h2v2h-2zM240 522h2v2h-2zM248 522h2v2h-2zM252 522h2v2h-2zM262 522h4v2h-4zM274 522h6v2h-6zM298 522h4v2h-4zM306 522h2v2h-2zM310 522h2v2h-2zM316 522h2v2h-2zM320 522h2v2h-2zM332 522h4v2h-4zM352 522h2v2h-2zM366 522h2v2h-2zM370 522h2v2h-2zM384 522h4v2h-4zM396 522h2v2h-2zM404 522h2v2h-2zM420 522h2v2h-2zM432 522h2v2h-2zM440 522h2v2h-2zM450 522h2v2h-2zM502 522h4v2h-4zM524 522h2v2h-2zM528 522h6v2h-6zM538 522h4v2h-4zM552 522h4v2h-4zM562 522h4v2h-4zM568 522h2v2h-2zM572 522h8v2h-8zM584 522h2v2h-2zM588 522h8v2h-8zM598 522h2v2h-2zM602 522h2v2h-2zM606 522h14v2h-14zM622 522h2v2h-2zM626 522h8v2h-8zM644 522h4v2h-4zM654 522h2v2h-2zM664 522h2v2h-2zM670 522h2v2h-2zM674 522h2v2h-2zM680 522h2v2h-2zM738 522h2v2h-2zM172 524h2v2h-2zM188 524h2v2h-2zM220 524h4v2h-4zM226 524h6v2h-6zM246 524h2v2h-2zM252 524h2v2h-2zM270 524h2v2h-2zM278 524h2v2h-2zM284 524h4v2h-4zM302 524h4v2h-4zM312 524h4v2h-4zM318 524h6v2h-6zM336 524h2v2h-2zM340 524h2v2h-2zM344 524h4v2h-4zM350 524h2v2h-2zM354 524h2v2h-2zM368 524h2v2h-2zM374 524h2v2h-2zM378 524h2v2h-2zM392 524h2v2h-2zM396 524h2v2h-2zM400 524h4v2h-4zM410 524h2v2h-2zM426 524h6v2h-6zM434 524h4v2h-4zM440 524h2v2h-2zM448 524h4v2h-4zM460 524h2v2h-2zM464 524h4v2h-4zM520 524h6v2h-6zM550 524h10v2h-10zM564 524h6v2h-6zM572 524h24v2h-24zM598 524h2v2h-2zM602 524h10v2h-10zM614 524h2v2h-2zM618 524h6v2h-6zM626 524h4v2h-4zM632 524h6v2h-6zM642 524h4v2h-4zM652 524h2v2h-2zM676 524h2v2h-2zM704 524h2v2h-2zM154 526h2v2h-2zM196 526h2v2h-2zM222 526h2v2h-2zM228 526h4v2h-4zM244 526h2v2h-2zM250 526h2v2h-2zM262 526h6v2h-6zM274 526h2v2h-2zM278 526h2v2h-2zM288 526h2v2h-2zM296 526h2v2h-2zM320 526h2v2h-2zM326 526h8v2h-8zM336 526h4v2h-4zM342 526h2v2h-2zM378 526h2v2h-2zM394 526h2v2h-2zM404 526h2v2h-2zM410 526h2v2h-2zM418 526h2v2h-2zM428 526h2v2h-2zM432 526h4v2h-4zM440 526h2v2h-2zM448 526h4v2h-4zM492 526h2v2h-2zM496 526h4v2h-4zM510 526h2v2h-2zM548 526h4v2h-4zM556 526h6v2h-6zM566 526h6v2h-6zM574 526h24v2h-24zM614 526h8v2h-8zM624 526h6v2h-6zM634 526h6v2h-6zM644 526h2v2h-2zM650 526h2v2h-2zM178 528h2v2h-2zM208 528h2v2h-2zM222 528h2v2h-2zM232 528h6v2h-6zM242 528h4v2h-4zM254 528h4v2h-4zM268 528h2v2h-2zM274 528h2v2h-2zM306 528h2v2h-2zM312 528h2v2h-2zM318 528h2v2h-2zM322 528h4v2h-4zM328 528h4v2h-4zM336 528h4v2h-4zM348 528h2v2h-2zM352 528h2v2h-2zM356 528h2v2h-2zM360 528h2v2h-2zM370 528h4v2h-4zM386 528h2v2h-2zM390 528h2v2h-2zM404 528h2v2h-2zM412 528h2v2h-2zM424 528h2v2h-2zM446 528h2v2h-2zM464 528h2v2h-2zM476 528h2v2h-2zM480 528h2v2h-2zM502 528h2v2h-2zM520 528h2v2h-2zM526 528h6v2h-6zM542 528h8v2h-8zM558 528h6v2h-6zM566 528h2v2h-2zM570 528h2v2h-2zM574 528h2v2h-2zM580 528h12v2h-12zM616 528h16v2h-16zM634 528h2v2h-2zM642 528h2v2h-2zM646 528h4v2h-4zM654 528h2v2h-2zM658 528h2v2h-2zM192 530h2v2h-2zM214 530h2v2h-2zM222 530h2v2h-2zM230 530h2v2h-2zM234 530h2v2h-2zM244 530h2v2h-2zM248 530h2v2h-2zM254 530h2v2h-2zM262 530h2v2h-2zM266 530h2v2h-2zM274 530h4v2h-4zM288 530h2v2h-2zM292 530h2v2h-2zM310 530h2v2h-2zM328 530h4v2h-4zM352 530h2v2h-2zM358 530h2v2h-2zM364 530h2v2h-2zM384 530h2v2h-2zM388 530h4v2h-4zM396 530h2v2h-2zM404 530h6v2h-6zM418 530h8v2h-8zM432 530h2v2h-2zM436 530h2v2h-2zM442 530h4v2h-4zM476 530h2v2h-2zM482 530h4v2h-4zM490 530h2v2h-2zM496 530h6v2h-6zM504 530h4v2h-4zM518 530h2v2h-2zM524 530h2v2h-2zM530 530h6v2h-6zM544 530h4v2h-4zM550 530h2v2h-2zM554 530h4v2h-4zM566 530h4v2h-4zM574 530h2v2h-2zM586 530h2v2h-2zM616 530h10v2h-10zM628 530h2v2h-2zM634 530h2v2h-2zM640 530h4v2h-4zM650 530h2v2h-2zM660 530h4v2h-4zM670 530h2v2h-2zM186 532h4v2h-4zM220 532h2v2h-2zM246 532h2v2h-2zM252 532h2v2h-2zM256 532h4v2h-4zM262 532h2v2h-2zM266 532h2v2h-2zM276 532h2v2h-2zM282 532h6v2h-6zM294 532h2v2h-2zM302 532h2v2h-2zM310 532h2v2h-2zM320 532h2v2h-2zM324 532h2v2h-2zM328 532h4v2h-4zM336 532h2v2h-2zM342 532h2v2h-2zM346 532h2v2h-2zM364 532h2v2h-2zM368 532h2v2h-2zM374 532h2v2h-2zM380 532h8v2h-8zM394 532h2v2h-2zM398 532h4v2h-4zM432 532h2v2h-2zM440 532h2v2h-2zM452 532h2v2h-2zM460 532h2v2h-2zM464 532h2v2h-2zM490 532h4v2h-4zM518 532h2v2h-2zM522 532h2v2h-2zM530 532h4v2h-4zM536 532h4v2h-4zM542 532h2v2h-2zM550 532h4v2h-4zM560 532h6v2h-6zM568 532h2v2h-2zM576 532h8v2h-8zM620 532h2v2h-2zM624 532h8v2h-8zM636 532h8v2h-8zM652 532h2v2h-2zM656 532h2v2h-2zM206 534h2v2h-2zM210 534h2v2h-2zM216 534h2v2h-2zM220 534h2v2h-2zM230 534h2v2h-2zM246 534h2v2h-2zM252 534h2v2h-2zM256 534h2v2h-2zM260 534h4v2h-4zM270 534h4v2h-4zM276 534h8v2h-8zM286 534h2v2h-2zM294 534h2v2h-2zM300 534h2v2h-2zM310 534h2v2h-2zM316 534h2v2h-2zM324 534h2v2h-2zM330 534h2v2h-2zM340 534h2v2h-2zM346 534h2v2h-2zM350 534h2v2h-2zM354 534h2v2h-2zM368 534h2v2h-2zM392 534h6v2h-6zM408 534h2v2h-2zM416 534h2v2h-2zM424 534h2v2h-2zM432 534h2v2h-2zM444 534h2v2h-2zM450 534h4v2h-4zM468 534h2v2h-2zM480 534h2v2h-2zM498 534h2v2h-2zM518 534h2v2h-2zM528 534h2v2h-2zM534 534h4v2h-4zM540 534h2v2h-2zM544 534h6v2h-6zM552 534h6v2h-6zM560 534h2v2h-2zM564 534h2v2h-2zM570 534h8v2h-8zM614 534h6v2h-6zM622 534h6v2h-6zM630 534h2v2h-2zM634 534h6v2h-6zM642 534h8v2h-8zM652 534h10v2h-10zM690 534h2v2h-2zM170 536h2v2h-2zM198 536h2v2h-2zM202 536h2v2h-2zM216 536h2v2h-2zM222 536h2v2h-2zM228 536h2v2h-2zM246 536h2v2h-2zM250 536h2v2h-2zM254 536h4v2h-4zM262 536h4v2h-4zM272 536h2v2h-2zM286 536h4v2h-4zM298 536h2v2h-2zM302 536h2v2h-2zM306 536h2v2h-2zM314 536h2v2h-2zM328 536h4v2h-4zM336 536h2v2h-2zM340 536h2v2h-2zM350 536h2v2h-2zM354 536h4v2h-4zM360 536h2v2h-2zM378 536h4v2h-4zM388 536h2v2h-2zM394 536h2v2h-2zM400 536h2v2h-2zM418 536h2v2h-2zM434 536h2v2h-2zM438 536h2v2h-2zM444 536h2v2h-2zM448 536h2v2h-2zM454 536h2v2h-2zM464 536h2v2h-2zM470 536h4v2h-4zM478 536h2v2h-2zM486 536h2v2h-2zM498 536h4v2h-4zM518 536h6v2h-6zM526 536h2v2h-2zM532 536h2v2h-2zM536 536h2v2h-2zM542 536h2v2h-2zM546 536h2v2h-2zM550 536h2v2h-2zM556 536h2v2h-2zM560 536h4v2h-4zM568 536h6v2h-6zM614 536h6v2h-6zM622 536h12v2h-12zM636 536h2v2h-2zM642 536h2v2h-2zM646 536h4v2h-4zM654 536h4v2h-4zM212 538h2v2h-2zM216 538h4v2h-4zM228 538h2v2h-2zM234 538h4v2h-4zM246 538h4v2h-4zM256 538h2v2h-2zM274 538h2v2h-2zM282 538h2v2h-2zM290 538h2v2h-2zM294 538h2v2h-2zM300 538h2v2h-2zM304 538h2v2h-2zM314 538h6v2h-6zM322 538h4v2h-4zM336 538h2v2h-2zM346 538h2v2h-2zM350 538h2v2h-2zM356 538h2v2h-2zM360 538h2v2h-2zM364 538h2v2h-2zM368 538h2v2h-2zM386 538h4v2h-4zM400 538h2v2h-2zM404 538h6v2h-6zM412 538h2v2h-2zM416 538h2v2h-2zM424 538h2v2h-2zM428 538h4v2h-4zM434 538h2v2h-2zM442 538h2v2h-2zM448 538h2v2h-2zM458 538h2v2h-2zM474 538h4v2h-4zM480 538h2v2h-2zM486 538h2v2h-2zM498 538h6v2h-6zM510 538h4v2h-4zM524 538h2v2h-2zM532 538h2v2h-2zM540 538h6v2h-6zM550 538h6v2h-6zM558 538h10v2h-10zM570 538h4v2h-4zM612 538h4v2h-4zM618 538h6v2h-6zM630 538h2v2h-2zM634 538h6v2h-6zM644 538h4v2h-4zM658 538h2v2h-2zM764 538h2v2h-2zM190 540h2v2h-2zM204 540h2v2h-2zM226 540h2v2h-2zM230 540h4v2h-4zM246 540h2v2h-2zM250 540h2v2h-2zM254 540h2v2h-2zM270 540h2v2h-2zM282 540h2v2h-2zM288 540h2v2h-2zM292 540h2v2h-2zM300 540h2v2h-2zM308 540h2v2h-2zM322 540h6v2h-6zM330 540h2v2h-2zM334 540h4v2h-4zM340 540h2v2h-2zM346 540h2v2h-2zM358 540h2v2h-2zM364 540h2v2h-2zM372 540h2v2h-2zM390 540h4v2h-4zM396 540h2v2h-2zM402 540h2v2h-2zM416 540h4v2h-4zM434 540h2v2h-2zM438 540h2v2h-2zM442 540h4v2h-4zM448 540h2v2h-2zM452 540h4v2h-4zM460 540h2v2h-2zM468 540h2v2h-2zM474 540h2v2h-2zM478 540h4v2h-4zM492 540h2v2h-2zM504 540h2v2h-2zM514 540h2v2h-2zM520 540h2v2h-2zM526 540h8v2h-8zM538 540h16v2h-16zM558 540h6v2h-6zM566 540h6v2h-6zM610 540h12v2h-12zM624 540h4v2h-4zM630 540h2v2h-2zM636 540h2v2h-2zM642 540h2v2h-2zM646 540h2v2h-2zM654 540h2v2h-2zM702 540h2v2h-2zM164 542h2v2h-2zM178 542h2v2h-2zM206 542h2v2h-2zM234 542h6v2h-6zM242 542h2v2h-2zM246 542h4v2h-4zM256 542h6v2h-6zM268 542h2v2h-2zM272 542h4v2h-4zM286 542h2v2h-2zM290 542h2v2h-2zM302 542h2v2h-2zM308 542h2v2h-2zM314 542h2v2h-2zM326 542h2v2h-2zM330 542h8v2h-8zM342 542h4v2h-4zM352 542h2v2h-2zM358 542h2v2h-2zM382 542h2v2h-2zM386 542h2v2h-2zM390 542h2v2h-2zM396 542h2v2h-2zM400 542h6v2h-6zM414 542h2v2h-2zM424 542h4v2h-4zM430 542h2v2h-2zM442 542h2v2h-2zM452 542h2v2h-2zM472 542h6v2h-6zM486 542h2v2h-2zM506 542h16v2h-16zM528 542h4v2h-4zM540 542h4v2h-4zM548 542h2v2h-2zM552 542h4v2h-4zM558 542h6v2h-6zM566 542h2v2h-2zM608 542h10v2h-10zM620 542h2v2h-2zM624 542h2v2h-2zM634 542h4v2h-4zM640 542h2v2h-2zM650 542h2v2h-2zM660 542h2v2h-2zM146 544h2v2h-2zM180 544h2v2h-2zM190 544h4v2h-4zM198 544h4v2h-4zM212 544h2v2h-2zM218 544h2v2h-2zM232 544h2v2h-2zM236 544h6v2h-6zM252 544h2v2h-2zM256 544h6v2h-6zM268 544h4v2h-4zM276 544h8v2h-8zM286 544h6v2h-6zM296 544h4v2h-4zM302 544h2v2h-2zM306 544h2v2h-2zM310 544h2v2h-2zM314 544h2v2h-2zM318 544h2v2h-2zM324 544h4v2h-4zM330 544h2v2h-2zM334 544h4v2h-4zM348 544h4v2h-4zM364 544h2v2h-2zM368 544h2v2h-2zM372 544h4v2h-4zM386 544h2v2h-2zM390 544h4v2h-4zM396 544h2v2h-2zM400 544h2v2h-2zM404 544h2v2h-2zM408 544h2v2h-2zM420 544h2v2h-2zM424 544h2v2h-2zM428 544h2v2h-2zM448 544h8v2h-8zM464 544h2v2h-2zM468 544h4v2h-4zM480 544h2v2h-2zM488 544h2v2h-2zM496 544h2v2h-2zM500 544h2v2h-2zM512 544h2v2h-2zM524 544h2v2h-2zM528 544h2v2h-2zM534 544h2v2h-2zM538 544h2v2h-2zM548 544h4v2h-4zM554 544h2v2h-2zM558 544h8v2h-8zM612 544h4v2h-4zM618 544h4v2h-4zM624 544h2v2h-2zM628 544h4v2h-4zM634 544h4v2h-4zM642 544h2v2h-2zM646 544h2v2h-2zM658 544h2v2h-2zM158 546h2v2h-2zM182 546h2v2h-2zM190 546h4v2h-4zM214 546h2v2h-2zM228 546h2v2h-2zM232 546h2v2h-2zM238 546h2v2h-2zM248 546h4v2h-4zM254 546h4v2h-4zM260 546h2v2h-2zM272 546h2v2h-2zM276 546h4v2h-4zM284 546h6v2h-6zM292 546h2v2h-2zM298 546h2v2h-2zM304 546h8v2h-8zM314 546h2v2h-2zM320 546h6v2h-6zM332 546h2v2h-2zM338 546h6v2h-6zM350 546h2v2h-2zM358 546h2v2h-2zM364 546h2v2h-2zM382 546h4v2h-4zM388 546h2v2h-2zM394 546h2v2h-2zM406 546h4v2h-4zM412 546h4v2h-4zM422 546h2v2h-2zM426 546h2v2h-2zM430 546h4v2h-4zM440 546h2v2h-2zM448 546h2v2h-2zM452 546h4v2h-4zM458 546h2v2h-2zM466 546h2v2h-2zM470 546h2v2h-2zM484 546h2v2h-2zM494 546h2v2h-2zM500 546h6v2h-6zM510 546h2v2h-2zM516 546h4v2h-4zM522 546h4v2h-4zM534 546h4v2h-4zM540 546h2v2h-2zM544 546h14v2h-14zM560 546h4v2h-4zM606 546h14v2h-14zM624 546h2v2h-2zM630 546h6v2h-6zM640 546h2v2h-2zM648 546h2v2h-2zM130 548h2v2h-2zM184 548h2v2h-2zM202 548h4v2h-4zM208 548h2v2h-2zM214 548h4v2h-4zM222 548h2v2h-2zM226 548h2v2h-2zM232 548h4v2h-4zM240 548h2v2h-2zM246 548h2v2h-2zM250 548h2v2h-2zM254 548h4v2h-4zM264 548h4v2h-4zM274 548h2v2h-2zM278 548h2v2h-2zM284 548h2v2h-2zM288 548h6v2h-6zM298 548h2v2h-2zM304 548h4v2h-4zM314 548h2v2h-2zM318 548h2v2h-2zM330 548h2v2h-2zM340 548h4v2h-4zM350 548h2v2h-2zM360 548h2v2h-2zM364 548h6v2h-6zM374 548h2v2h-2zM388 548h2v2h-2zM398 548h2v2h-2zM406 548h12v2h-12zM426 548h2v2h-2zM432 548h2v2h-2zM438 548h2v2h-2zM450 548h2v2h-2zM462 548h2v2h-2zM474 548h2v2h-2zM478 548h10v2h-10zM492 548h2v2h-2zM496 548h2v2h-2zM502 548h4v2h-4zM508 548h2v2h-2zM522 548h6v2h-6zM536 548h2v2h-2zM540 548h2v2h-2zM544 548h2v2h-2zM550 548h2v2h-2zM556 548h6v2h-6zM604 548h4v2h-4zM610 548h4v2h-4zM618 548h6v2h-6zM626 548h2v2h-2zM632 548h6v2h-6zM640 548h2v2h-2zM644 548h2v2h-2zM660 548h2v2h-2zM768 548h2v2h-2zM154 550h2v2h-2zM174 550h2v2h-2zM186 550h2v2h-2zM214 550h2v2h-2zM218 550h4v2h-4zM226 550h2v2h-2zM232 550h2v2h-2zM238 550h6v2h-6zM250 550h4v2h-4zM256 550h8v2h-8zM266 550h2v2h-2zM272 550h6v2h-6zM286 550h2v2h-2zM294 550h2v2h-2zM300 550h6v2h-6zM308 550h2v2h-2zM312 550h6v2h-6zM324 550h2v2h-2zM330 550h4v2h-4zM338 550h2v2h-2zM348 550h2v2h-2zM364 550h2v2h-2zM374 550h2v2h-2zM378 550h2v2h-2zM386 550h8v2h-8zM396 550h8v2h-8zM408 550h2v2h-2zM416 550h2v2h-2zM432 550h2v2h-2zM440 550h2v2h-2zM444 550h2v2h-2zM450 550h2v2h-2zM460 550h4v2h-4zM468 550h2v2h-2zM472 550h2v2h-2zM476 550h16v2h-16zM494 550h2v2h-2zM498 550h4v2h-4zM508 550h2v2h-2zM514 550h4v2h-4zM524 550h2v2h-2zM528 550h6v2h-6zM538 550h4v2h-4zM548 550h2v2h-2zM552 550h10v2h-10zM600 550h8v2h-8zM610 550h2v2h-2zM614 550h4v2h-4zM624 550h2v2h-2zM628 550h6v2h-6zM638 550h2v2h-2zM652 550h4v2h-4zM156 552h2v2h-2zM186 552h4v2h-4zM198 552h2v2h-2zM214 552h8v2h-8zM228 552h2v2h-2zM232 552h2v2h-2zM236 552h4v2h-4zM244 552h2v2h-2zM248 552h2v2h-2zM260 552h4v2h-4zM266 552h10v2h-10zM280 552h4v2h-4zM288 552h4v2h-4zM308 552h6v2h-6zM318 552h2v2h-2zM326 552h2v2h-2zM334 552h8v2h-8zM350 552h4v2h-4zM362 552h6v2h-6zM370 552h2v2h-2zM384 552h2v2h-2zM388 552h2v2h-2zM392 552h4v2h-4zM400 552h6v2h-6zM416 552h2v2h-2zM422 552h2v2h-2zM426 552h2v2h-2zM430 552h12v2h-12zM446 552h8v2h-8zM458 552h2v2h-2zM462 552h2v2h-2zM466 552h6v2h-6zM478 552h4v2h-4zM486 552h6v2h-6zM494 552h2v2h-2zM498 552h2v2h-2zM504 552h4v2h-4zM510 552h2v2h-2zM514 552h2v2h-2zM518 552h4v2h-4zM524 552h4v2h-4zM538 552h4v2h-4zM544 552h2v2h-2zM548 552h2v2h-2zM556 552h4v2h-4zM598 552h4v2h-4zM604 552h2v2h-2zM610 552h4v2h-4zM616 552h10v2h-10zM628 552h2v2h-2zM644 552h2v2h-2zM658 552h2v2h-2zM734 552h2v2h-2zM152 554h4v2h-4zM184 554h4v2h-4zM192 554h2v2h-2zM202 554h2v2h-2zM210 554h2v2h-2zM214 554h2v2h-2zM218 554h2v2h-2zM228 554h2v2h-2zM234 554h2v2h-2zM246 554h10v2h-10zM258 554h6v2h-6zM266 554h22v2h-22zM300 554h6v2h-6zM310 554h4v2h-4zM316 554h4v2h-4zM326 554h2v2h-2zM330 554h2v2h-2zM334 554h4v2h-4zM344 554h2v2h-2zM350 554h8v2h-8zM360 554h4v2h-4zM368 554h6v2h-6zM376 554h2v2h-2zM382 554h4v2h-4zM388 554h2v2h-2zM396 554h6v2h-6zM410 554h2v2h-2zM414 554h2v2h-2zM418 554h4v2h-4zM438 554h2v2h-2zM444 554h8v2h-8zM460 554h2v2h-2zM466 554h2v2h-2zM470 554h2v2h-2zM476 554h2v2h-2zM492 554h2v2h-2zM496 554h2v2h-2zM502 554h2v2h-2zM506 554h4v2h-4zM512 554h6v2h-6zM520 554h2v2h-2zM524 554h6v2h-6zM534 554h2v2h-2zM542 554h8v2h-8zM556 554h2v2h-2zM596 554h6v2h-6zM604 554h4v2h-4zM612 554h4v2h-4zM618 554h8v2h-8zM628 554h2v2h-2zM642 554h2v2h-2zM128 556h4v2h-4zM154 556h2v2h-2zM162 556h2v2h-2zM176 556h2v2h-2zM190 556h2v2h-2zM196 556h2v2h-2zM200 556h2v2h-2zM222 556h6v2h-6zM230 556h2v2h-2zM236 556h2v2h-2zM248 556h4v2h-4zM254 556h4v2h-4zM260 556h2v2h-2zM264 556h6v2h-6zM272 556h6v2h-6zM282 556h4v2h-4zM288 556h2v2h-2zM292 556h4v2h-4zM306 556h2v2h-2zM314 556h4v2h-4zM320 556h2v2h-2zM324 556h4v2h-4zM332 556h2v2h-2zM336 556h4v2h-4zM342 556h2v2h-2zM346 556h2v2h-2zM354 556h4v2h-4zM360 556h10v2h-10zM372 556h4v2h-4zM378 556h4v2h-4zM384 556h6v2h-6zM392 556h2v2h-2zM398 556h2v2h-2zM402 556h2v2h-2zM408 556h2v2h-2zM412 556h6v2h-6zM424 556h2v2h-2zM428 556h4v2h-4zM434 556h10v2h-10zM448 556h4v2h-4zM454 556h2v2h-2zM462 556h4v2h-4zM476 556h4v2h-4zM482 556h2v2h-2zM492 556h2v2h-2zM498 556h4v2h-4zM506 556h4v2h-4zM514 556h6v2h-6zM526 556h2v2h-2zM532 556h2v2h-2zM536 556h2v2h-2zM540 556h2v2h-2zM544 556h4v2h-4zM550 556h4v2h-4zM596 556h4v2h-4zM602 556h2v2h-2zM612 556h2v2h-2zM616 556h4v2h-4zM632 556h2v2h-2zM636 556h2v2h-2zM640 556h4v2h-4zM656 556h4v2h-4zM138 558h2v2h-2zM170 558h2v2h-2zM200 558h2v2h-2zM216 558h2v2h-2zM222 558h4v2h-4zM230 558h6v2h-6zM240 558h4v2h-4zM246 558h4v2h-4zM256 558h4v2h-4zM264 558h2v2h-2zM268 558h6v2h-6zM278 558h6v2h-6zM288 558h2v2h-2zM292 558h4v2h-4zM298 558h4v2h-4zM304 558h2v2h-2zM310 558h8v2h-8zM320 558h2v2h-2zM326 558h8v2h-8zM336 558h4v2h-4zM342 558h4v2h-4zM348 558h2v2h-2zM352 558h2v2h-2zM356 558h4v2h-4zM364 558h2v2h-2zM368 558h2v2h-2zM372 558h18v2h-18zM392 558h4v2h-4zM400 558h8v2h-8zM412 558h6v2h-6zM422 558h8v2h-8zM434 558h4v2h-4zM444 558h2v2h-2zM452 558h2v2h-2zM462 558h2v2h-2zM466 558h2v2h-2zM470 558h4v2h-4zM476 558h8v2h-8zM488 558h2v2h-2zM496 558h6v2h-6zM516 558h8v2h-8zM526 558h8v2h-8zM536 558h4v2h-4zM548 558h4v2h-4zM554 558h2v2h-2zM590 558h20v2h-20zM614 558h2v2h-2zM620 558h2v2h-2zM624 558h2v2h-2zM628 558h2v2h-2zM636 558h2v2h-2zM148 560h2v2h-2zM170 560h2v2h-2zM176 560h2v2h-2zM184 560h2v2h-2zM188 560h2v2h-2zM198 560h2v2h-2zM202 560h4v2h-4zM216 560h8v2h-8zM236 560h2v2h-2zM240 560h8v2h-8zM250 560h2v2h-2zM256 560h4v2h-4zM262 560h4v2h-4zM268 560h2v2h-2zM274 560h2v2h-2zM286 560h6v2h-6zM294 560h2v2h-2zM300 560h16v2h-16zM318 560h6v2h-6zM326 560h2v2h-2zM330 560h2v2h-2zM340 560h2v2h-2zM344 560h2v2h-2zM348 560h4v2h-4zM354 560h2v2h-2zM360 560h2v2h-2zM366 560h2v2h-2zM370 560h2v2h-2zM376 560h4v2h-4zM400 560h4v2h-4zM406 560h2v2h-2zM416 560h2v2h-2zM422 560h2v2h-2zM428 560h8v2h-8zM438 560h4v2h-4zM446 560h6v2h-6zM460 560h2v2h-2zM466 560h8v2h-8zM484 560h2v2h-2zM488 560h2v2h-2zM492 560h4v2h-4zM498 560h4v2h-4zM510 560h2v2h-2zM514 560h10v2h-10zM528 560h18v2h-18zM548 560h8v2h-8zM588 560h16v2h-16zM608 560h2v2h-2zM614 560h6v2h-6zM628 560h2v2h-2zM634 560h4v2h-4zM656 560h2v2h-2zM770 560h2v2h-2zM148 562h2v2h-2zM226 562h2v2h-2zM230 562h2v2h-2zM234 562h2v2h-2zM238 562h2v2h-2zM242 562h2v2h-2zM252 562h8v2h-8zM270 562h2v2h-2zM280 562h2v2h-2zM292 562h6v2h-6zM306 562h4v2h-4zM316 562h6v2h-6zM324 562h2v2h-2zM328 562h6v2h-6zM338 562h2v2h-2zM342 562h2v2h-2zM346 562h2v2h-2zM350 562h6v2h-6zM360 562h2v2h-2zM364 562h4v2h-4zM376 562h2v2h-2zM380 562h4v2h-4zM386 562h2v2h-2zM392 562h2v2h-2zM396 562h2v2h-2zM404 562h2v2h-2zM412 562h4v2h-4zM418 562h2v2h-2zM428 562h4v2h-4zM434 562h2v2h-2zM440 562h4v2h-4zM446 562h4v2h-4zM462 562h4v2h-4zM474 562h2v2h-2zM480 562h4v2h-4zM486 562h4v2h-4zM492 562h4v2h-4zM498 562h6v2h-6zM506 562h4v2h-4zM512 562h2v2h-2zM518 562h2v2h-2zM522 562h2v2h-2zM526 562h6v2h-6zM534 562h22v2h-22zM582 562h4v2h-4zM592 562h4v2h-4zM598 562h10v2h-10zM610 562h4v2h-4zM620 562h2v2h-2zM656 562h2v2h-2zM662 562h2v2h-2zM152 564h2v2h-2zM158 564h2v2h-2zM164 564h2v2h-2zM180 564h2v2h-2zM184 564h2v2h-2zM190 564h2v2h-2zM198 564h2v2h-2zM214 564h2v2h-2zM224 564h2v2h-2zM234 564h2v2h-2zM238 564h2v2h-2zM246 564h4v2h-4zM254 564h10v2h-10zM266 564h12v2h-12zM280 564h8v2h-8zM290 564h4v2h-4zM296 564h6v2h-6zM304 564h10v2h-10zM316 564h2v2h-2zM320 564h6v2h-6zM328 564h2v2h-2zM334 564h4v2h-4zM342 564h2v2h-2zM348 564h2v2h-2zM352 564h2v2h-2zM362 564h2v2h-2zM366 564h4v2h-4zM372 564h4v2h-4zM384 564h2v2h-2zM392 564h2v2h-2zM396 564h2v2h-2zM400 564h10v2h-10zM412 564h6v2h-6zM422 564h12v2h-12zM438 564h8v2h-8zM450 564h2v2h-2zM454 564h4v2h-4zM460 564h10v2h-10zM474 564h2v2h-2zM478 564h6v2h-6zM488 564h2v2h-2zM496 564h4v2h-4zM502 564h6v2h-6zM510 564h4v2h-4zM520 564h6v2h-6zM530 564h4v2h-4zM536 564h4v2h-4zM544 564h14v2h-14zM576 564h6v2h-6zM584 564h4v2h-4zM590 564h6v2h-6zM602 564h4v2h-4zM622 564h4v2h-4zM632 564h2v2h-2zM672 564h2v2h-2zM734 564h2v2h-2zM162 566h2v2h-2zM178 566h2v2h-2zM196 566h2v2h-2zM210 566h2v2h-2zM214 566h4v2h-4zM222 566h2v2h-2zM226 566h18v2h-18zM246 566h4v2h-4zM254 566h6v2h-6zM262 566h14v2h-14zM280 566h6v2h-6zM288 566h2v2h-2zM292 566h2v2h-2zM296 566h6v2h-6zM304 566h4v2h-4zM310 566h12v2h-12zM324 566h6v2h-6zM336 566h4v2h-4zM348 566h4v2h-4zM354 566h4v2h-4zM360 566h2v2h-2zM366 566h4v2h-4zM372 566h2v2h-2zM376 566h4v2h-4zM384 566h6v2h-6zM394 566h2v2h-2zM398 566h4v2h-4zM404 566h4v2h-4zM410 566h2v2h-2zM414 566h2v2h-2zM418 566h4v2h-4zM424 566h2v2h-2zM428 566h2v2h-2zM436 566h6v2h-6zM444 566h10v2h-10zM464 566h4v2h-4zM470 566h14v2h-14zM488 566h2v2h-2zM494 566h4v2h-4zM502 566h2v2h-2zM510 566h6v2h-6zM520 566h2v2h-2zM526 566h2v2h-2zM530 566h6v2h-6zM538 566h18v2h-18zM558 566h4v2h-4zM568 566h4v2h-4zM576 566h8v2h-8zM588 566h12v2h-12zM622 566h6v2h-6zM632 566h2v2h-2zM156 568h2v2h-2zM166 568h2v2h-2zM194 568h2v2h-2zM202 568h2v2h-2zM212 568h2v2h-2zM226 568h2v2h-2zM232 568h10v2h-10zM244 568h18v2h-18zM264 568h4v2h-4zM270 568h4v2h-4zM284 568h12v2h-12zM298 568h10v2h-10zM312 568h10v2h-10zM324 568h2v2h-2zM334 568h6v2h-6zM344 568h2v2h-2zM354 568h6v2h-6zM366 568h4v2h-4zM378 568h2v2h-2zM384 568h4v2h-4zM390 568h2v2h-2zM398 568h4v2h-4zM404 568h2v2h-2zM408 568h4v2h-4zM418 568h14v2h-14zM434 568h2v2h-2zM438 568h4v2h-4zM444 568h2v2h-2zM450 568h2v2h-2zM454 568h2v2h-2zM464 568h2v2h-2zM468 568h2v2h-2zM472 568h4v2h-4zM478 568h4v2h-4zM484 568h2v2h-2zM488 568h4v2h-4zM496 568h2v2h-2zM500 568h2v2h-2zM508 568h2v2h-2zM514 568h6v2h-6zM522 568h14v2h-14zM538 568h4v2h-4zM544 568h10v2h-10zM556 568h20v2h-20zM578 568h10v2h-10zM590 568h2v2h-2zM594 568h2v2h-2zM598 568h2v2h-2zM602 568h6v2h-6zM610 568h2v2h-2zM624 568h2v2h-2zM644 568h2v2h-2zM652 568h2v2h-2zM156 570h4v2h-4zM176 570h2v2h-2zM188 570h2v2h-2zM196 570h2v2h-2zM214 570h4v2h-4zM226 570h2v2h-2zM230 570h4v2h-4zM238 570h2v2h-2zM246 570h2v2h-2zM250 570h8v2h-8zM290 570h4v2h-4zM296 570h20v2h-20zM324 570h6v2h-6zM336 570h2v2h-2zM342 570h4v2h-4zM356 570h6v2h-6zM364 570h10v2h-10zM382 570h2v2h-2zM386 570h2v2h-2zM390 570h4v2h-4zM396 570h2v2h-2zM400 570h4v2h-4zM408 570h2v2h-2zM414 570h10v2h-10zM426 570h14v2h-14zM450 570h6v2h-6zM458 570h2v2h-2zM466 570h2v2h-2zM472 570h4v2h-4zM478 570h2v2h-2zM482 570h4v2h-4zM490 570h2v2h-2zM506 570h4v2h-4zM512 570h4v2h-4zM520 570h12v2h-12zM534 570h18v2h-18zM554 570h4v2h-4zM560 570h10v2h-10zM572 570h6v2h-6zM580 570h4v2h-4zM588 570h2v2h-2zM592 570h8v2h-8zM604 570h4v2h-4zM618 570h2v2h-2zM622 570h2v2h-2zM628 570h4v2h-4zM656 570h2v2h-2zM150 572h2v2h-2zM174 572h4v2h-4zM186 572h6v2h-6zM208 572h2v2h-2zM212 572h6v2h-6zM220 572h2v2h-2zM228 572h4v2h-4zM234 572h16v2h-16zM296 572h2v2h-2zM300 572h2v2h-2zM304 572h6v2h-6zM318 572h10v2h-10zM330 572h20v2h-20zM352 572h8v2h-8zM362 572h2v2h-2zM370 572h8v2h-8zM384 572h4v2h-4zM390 572h2v2h-2zM396 572h2v2h-2zM400 572h4v2h-4zM408 572h4v2h-4zM414 572h4v2h-4zM420 572h4v2h-4zM428 572h8v2h-8zM438 572h2v2h-2zM444 572h10v2h-10zM456 572h2v2h-2zM460 572h2v2h-2zM466 572h2v2h-2zM470 572h6v2h-6zM478 572h2v2h-2zM482 572h4v2h-4zM488 572h4v2h-4zM502 572h6v2h-6zM510 572h6v2h-6zM522 572h4v2h-4zM528 572h2v2h-2zM532 572h2v2h-2zM536 572h18v2h-18zM558 572h2v2h-2zM562 572h2v2h-2zM566 572h6v2h-6zM584 572h2v2h-2zM588 572h4v2h-4zM594 572h6v2h-6zM610 572h2v2h-2zM620 572h6v2h-6zM144 574h2v2h-2zM152 574h2v2h-2zM162 574h2v2h-2zM192 574h2v2h-2zM200 574h4v2h-4zM206 574h2v2h-2zM210 574h2v2h-2zM214 574h8v2h-8zM224 574h20v2h-20zM298 574h2v2h-2zM304 574h10v2h-10zM320 574h6v2h-6zM328 574h16v2h-16zM348 574h2v2h-2zM354 574h10v2h-10zM366 574h8v2h-8zM376 574h6v2h-6zM384 574h6v2h-6zM394 574h8v2h-8zM408 574h4v2h-4zM416 574h4v2h-4zM426 574h6v2h-6zM434 574h4v2h-4zM442 574h4v2h-4zM452 574h2v2h-2zM460 574h26v2h-26zM490 574h4v2h-4zM502 574h4v2h-4zM508 574h2v2h-2zM512 574h2v2h-2zM518 574h4v2h-4zM524 574h4v2h-4zM532 574h6v2h-6zM540 574h8v2h-8zM550 574h6v2h-6zM558 574h4v2h-4zM564 574h18v2h-18zM584 574h8v2h-8zM594 574h2v2h-2zM602 574h4v2h-4zM612 574h6v2h-6zM638 574h2v2h-2zM656 574h2v2h-2zM698 574h2v2h-2zM720 574h2v2h-2zM140 576h2v2h-2zM168 576h2v2h-2zM172 576h2v2h-2zM180 576h2v2h-2zM200 576h2v2h-2zM212 576h2v2h-2zM216 576h4v2h-4zM224 576h12v2h-12zM306 576h2v2h-2zM310 576h2v2h-2zM314 576h2v2h-2zM318 576h16v2h-16zM336 576h2v2h-2zM340 576h2v2h-2zM344 576h4v2h-4zM350 576h2v2h-2zM354 576h4v2h-4zM360 576h2v2h-2zM364 576h2v2h-2zM374 576h8v2h-8zM384 576h6v2h-6zM394 576h4v2h-4zM400 576h4v2h-4zM406 576h12v2h-12zM420 576h2v2h-2zM426 576h2v2h-2zM430 576h14v2h-14zM446 576h2v2h-2zM450 576h6v2h-6zM458 576h10v2h-10zM472 576h2v2h-2zM476 576h6v2h-6zM486 576h2v2h-2zM498 576h4v2h-4zM508 576h14v2h-14zM524 576h2v2h-2zM530 576h14v2h-14zM546 576h8v2h-8zM556 576h14v2h-14zM572 576h2v2h-2zM576 576h6v2h-6zM586 576h2v2h-2zM590 576h4v2h-4zM596 576h2v2h-2zM600 576h2v2h-2zM604 576h2v2h-2zM612 576h2v2h-2zM154 578h2v2h-2zM158 578h2v2h-2zM170 578h2v2h-2zM184 578h2v2h-2zM208 578h4v2h-4zM214 578h8v2h-8zM224 578h6v2h-6zM300 578h8v2h-8zM310 578h12v2h-12zM324 578h12v2h-12zM338 578h10v2h-10zM350 578h10v2h-10zM362 578h4v2h-4zM368 578h10v2h-10zM380 578h26v2h-26zM410 578h10v2h-10zM422 578h2v2h-2zM444 578h6v2h-6zM452 578h14v2h-14zM470 578h6v2h-6zM480 578h2v2h-2zM492 578h4v2h-4zM504 578h2v2h-2zM512 578h2v2h-2zM518 578h6v2h-6zM526 578h2v2h-2zM530 578h2v2h-2zM536 578h10v2h-10zM548 578h2v2h-2zM552 578h16v2h-16zM572 578h6v2h-6zM584 578h2v2h-2zM596 578h2v2h-2zM604 578h4v2h-4zM630 578h2v2h-2zM152 580h2v2h-2zM166 580h4v2h-4zM184 580h4v2h-4zM190 580h2v2h-2zM196 580h2v2h-2zM200 580h2v2h-2zM208 580h2v2h-2zM212 580h14v2h-14zM304 580h6v2h-6zM312 580h6v2h-6zM322 580h4v2h-4zM330 580h20v2h-20zM354 580h16v2h-16zM372 580h12v2h-12zM386 580h14v2h-14zM402 580h6v2h-6zM454 580h8v2h-8zM464 580h2v2h-2zM468 580h2v2h-2zM478 580h2v2h-2zM484 580h2v2h-2zM488 580h2v2h-2zM500 580h4v2h-4zM508 580h2v2h-2zM512 580h4v2h-4zM520 580h8v2h-8zM530 580h2v2h-2zM536 580h22v2h-22zM560 580h4v2h-4zM566 580h2v2h-2zM570 580h2v2h-2zM574 580h6v2h-6zM624 580h2v2h-2zM660 580h2v2h-2zM182 582h4v2h-4zM192 582h2v2h-2zM196 582h6v2h-6zM206 582h6v2h-6zM214 582h6v2h-6zM306 582h10v2h-10zM318 582h2v2h-2zM322 582h12v2h-12zM336 582h6v2h-6zM344 582h40v2h-40zM386 582h2v2h-2zM448 582h2v2h-2zM454 582h2v2h-2zM460 582h4v2h-4zM470 582h2v2h-2zM476 582h2v2h-2zM486 582h4v2h-4zM496 582h6v2h-6zM504 582h4v2h-4zM512 582h8v2h-8zM522 582h6v2h-6zM538 582h10v2h-10zM550 582h2v2h-2zM554 582h10v2h-10zM566 582h2v2h-2zM572 582h4v2h-4zM578 582h4v2h-4zM586 582h2v2h-2zM594 582h8v2h-8zM604 582h2v2h-2zM636 582h2v2h-2zM648 582h4v2h-4zM148 584h2v2h-2zM158 584h2v2h-2zM164 584h2v2h-2zM168 584h4v2h-4zM184 584h6v2h-6zM198 584h2v2h-2zM204 584h2v2h-2zM208 584h2v2h-2zM212 584h4v2h-4zM308 584h6v2h-6zM316 584h6v2h-6zM330 584h12v2h-12zM344 584h16v2h-16zM450 584h2v2h-2zM454 584h4v2h-4zM460 584h2v2h-2zM468 584h2v2h-2zM472 584h2v2h-2zM480 584h2v2h-2zM484 584h2v2h-2zM492 584h4v2h-4zM500 584h2v2h-2zM504 584h10v2h-10zM520 584h12v2h-12zM534 584h12v2h-12zM550 584h2v2h-2zM556 584h4v2h-4zM562 584h6v2h-6zM574 584h4v2h-4zM584 584h2v2h-2zM594 584h2v2h-2zM602 584h2v2h-2zM608 584h2v2h-2zM136 586h2v2h-2zM168 586h6v2h-6zM176 586h2v2h-2zM182 586h6v2h-6zM190 586h4v2h-4zM198 586h4v2h-4zM204 586h2v2h-2zM210 586h2v2h-2zM312 586h4v2h-4zM320 586h6v2h-6zM328 586h4v2h-4zM334 586h4v2h-4zM342 586h2v2h-2zM346 586h8v2h-8zM356 586h4v2h-4zM362 586h8v2h-8zM450 586h2v2h-2zM454 586h6v2h-6zM468 586h2v2h-2zM478 586h4v2h-4zM492 586h4v2h-4zM498 586h6v2h-6zM506 586h10v2h-10zM518 586h2v2h-2zM522 586h2v2h-2zM526 586h10v2h-10zM540 586h2v2h-2zM544 586h2v2h-2zM554 586h2v2h-2zM558 586h2v2h-2zM562 586h2v2h-2zM574 586h8v2h-8zM588 586h2v2h-2zM596 586h2v2h-2zM606 586h2v2h-2zM630 586h2v2h-2zM642 586h2v2h-2zM790 586h2v2h-2zM134 588h2v2h-2zM170 588h6v2h-6zM184 588h2v2h-2zM190 588h4v2h-4zM196 588h2v2h-2zM204 588h2v2h-2zM314 588h12v2h-12zM328 588h16v2h-16zM346 588h2v2h-2zM352 588h4v2h-4zM450 588h4v2h-4zM460 588h2v2h-2zM472 588h2v2h-2zM482 588h4v2h-4zM492 588h2v2h-2zM500 588h2v2h-2zM508 588h6v2h-6zM518 588h4v2h-4zM524 588h4v2h-4zM538 588h8v2h-8zM548 588h6v2h-6zM560 588h6v2h-6zM572 588h4v2h-4zM584 588h2v2h-2zM596 588h2v2h-2zM602 588h2v2h-2zM712 588h2v2h-2zM140 590h2v2h-2zM162 590h2v2h-2zM176 590h4v2h-4zM186 590h2v2h-2zM190 590h4v2h-4zM198 590h4v2h-4zM320 590h10v2h-10zM332 590h10v2h-10zM344 590h2v2h-2zM452 590h2v2h-2zM456 590h2v2h-2zM460 590h4v2h-4zM466 590h2v2h-2zM470 590h6v2h-6zM478 590h2v2h-2zM484 590h4v2h-4zM490 590h2v2h-2zM494 590h2v2h-2zM500 590h2v2h-2zM504 590h4v2h-4zM516 590h6v2h-6zM532 590h2v2h-2zM536 590h2v2h-2zM542 590h2v2h-2zM548 590h2v2h-2zM552 590h2v2h-2zM578 590h2v2h-2zM590 590h2v2h-2zM606 590h2v2h-2zM142 592h2v2h-2zM166 592h6v2h-6zM174 592h12v2h-12zM188 592h2v2h-2zM192 592h4v2h-4zM328 592h10v2h-10zM452 592h4v2h-4zM460 592h4v2h-4zM472 592h6v2h-6zM480 592h14v2h-14zM496 592h2v2h-2zM500 592h2v2h-2zM508 592h2v2h-2zM512 592h4v2h-4zM518 592h8v2h-8zM528 592h2v2h-2zM540 592h2v2h-2zM548 592h2v2h-2zM562 592h4v2h-4zM570 592h2v2h-2zM574 592h2v2h-2zM586 592h2v2h-2zM598 592h2v2h-2zM712 592h2v2h-2zM136 594h2v2h-2zM146 594h2v2h-2zM152 594h2v2h-2zM162 594h4v2h-4zM168 594h2v2h-2zM172 594h2v2h-2zM176 594h6v2h-6zM184 594h2v2h-2zM188 594h4v2h-4zM460 594h4v2h-4zM468 594h2v2h-2zM478 594h6v2h-6zM486 594h4v2h-4zM492 594h2v2h-2zM500 594h6v2h-6zM510 594h2v2h-2zM514 594h2v2h-2zM518 594h2v2h-2zM522 594h2v2h-2zM526 594h2v2h-2zM530 594h2v2h-2zM536 594h6v2h-6zM546 594h2v2h-2zM550 594h2v2h-2zM584 594h4v2h-4zM592 594h2v2h-2zM134 596h2v2h-2zM154 596h2v2h-2zM162 596h4v2h-4zM172 596h8v2h-8zM184 596h4v2h-4zM456 596h2v2h-2zM460 596h2v2h-2zM470 596h4v2h-4zM480 596h2v2h-2zM490 596h8v2h-8zM510 596h6v2h-6zM518 596h2v2h-2zM522 596h2v2h-2zM530 596h2v2h-2zM536 596h4v2h-4zM542 596h2v2h-2zM546 596h2v2h-2zM550 596h4v2h-4zM556 596h4v2h-4zM568 596h2v2h-2zM574 596h2v2h-2zM590 596h2v2h-2zM136 598h2v2h-2zM156 598h4v2h-4zM164 598h2v2h-2zM176 598h6v2h-6zM184 598h2v2h-2zM456 598h2v2h-2zM460 598h2v2h-2zM472 598h4v2h-4zM478 598h2v2h-2zM484 598h4v2h-4zM490 598h4v2h-4zM496 598h4v2h-4zM502 598h2v2h-2zM508 598h6v2h-6zM518 598h4v2h-4zM528 598h2v2h-2zM536 598h6v2h-6zM546 598h2v2h-2zM552 598h2v2h-2zM566 598h2v2h-2zM578 598h4v2h-4zM624 598h2v2h-2zM706 598h2v2h-2zM138 600h2v2h-2zM158 600h2v2h-2zM162 600h2v2h-2zM170 600h4v2h-4zM176 600h2v2h-2zM456 600h4v2h-4zM462 600h2v2h-2zM466 600h4v2h-4zM476 600h2v2h-2zM482 600h2v2h-2zM490 600h2v2h-2zM496 600h2v2h-2zM504 600h2v2h-2zM508 600h6v2h-6zM518 600h4v2h-4zM542 600h2v2h-2zM546 600h2v2h-2zM550 600h2v2h-2zM558 600h2v2h-2zM568 600h6v2h-6zM582 600h2v2h-2zM588 600h2v2h-2zM598 600h2v2h-2zM130 602h2v2h-2zM142 602h2v2h-2zM160 602h14v2h-14zM458 602h12v2h-12zM480 602h2v2h-2zM486 602h4v2h-4zM494 602h4v2h-4zM500 602h4v2h-4zM510 602h4v2h-4zM518 602h4v2h-4zM524 602h6v2h-6zM532 602h2v2h-2zM536 602h2v2h-2zM544 602h2v2h-2zM552 602h2v2h-2zM556 602h4v2h-4zM566 602h2v2h-2zM576 602h2v2h-2zM780 602h2v2h-2zM134 604h2v2h-2zM144 604h2v2h-2zM150 604h6v2h-6zM162 604h2v2h-2zM170 604h2v2h-2zM458 604h2v2h-2zM462 604h4v2h-4zM468 604h8v2h-8zM478 604h4v2h-4zM494 604h2v2h-2zM498 604h2v2h-2zM502 604h2v2h-2zM506 604h2v2h-2zM518 604h2v2h-2zM524 604h2v2h-2zM542 604h2v2h-2zM546 604h2v2h-2zM552 604h2v2h-2zM566 604h2v2h-2zM624 604h2v2h-2zM144 606h2v2h-2zM156 606h2v2h-2zM160 606h2v2h-2zM164 606h8v2h-8zM462 606h2v2h-2zM466 606h10v2h-10zM478 606h2v2h-2zM482 606h2v2h-2zM486 606h2v2h-2zM490 606h2v2h-2zM498 606h2v2h-2zM502 606h4v2h-4zM514 606h2v2h-2zM522 606h2v2h-2zM528 606h2v2h-2zM532 606h6v2h-6zM540 606h2v2h-2zM548 606h2v2h-2zM560 606h2v2h-2zM570 606h4v2h-4zM130 608h2v2h-2zM134 608h2v2h-2zM144 608h2v2h-2zM150 608h4v2h-4zM156 608h2v2h-2zM164 608h2v2h-2zM458 608h6v2h-6zM466 608h6v2h-6zM474 608h2v2h-2zM484 608h12v2h-12zM498 608h2v2h-2zM504 608h6v2h-6zM514 608h2v2h-2zM536 608h2v2h-2zM548 608h2v2h-2zM564 608h2v2h-2zM670 608h2v2h-2zM130 610h2v2h-2zM138 610h2v2h-2zM158 610h4v2h-4zM458 610h4v2h-4zM464 610h2v2h-2zM480 610h6v2h-6zM488 610h2v2h-2zM512 610h2v2h-2zM516 610h2v2h-2zM522 610h2v2h-2zM528 610h2v2h-2zM544 610h2v2h-2zM566 610h2v2h-2zM582 610h2v2h-2zM134 612h2v2h-2zM140 612h2v2h-2zM150 612h2v2h-2zM156 612h4v2h-4zM162 612h2v2h-2zM454 612h2v2h-2zM458 612h4v2h-4zM478 612h2v2h-2zM484 612h2v2h-2zM498 612h2v2h-2zM512 612h2v2h-2zM522 612h2v2h-2zM528 612h2v2h-2zM550 612h2v2h-2zM564 612h2v2h-2zM616 612h2v2h-2zM136 614h2v2h-2zM140 614h2v2h-2zM146 614h8v2h-8zM158 614h2v2h-2zM454 614h2v2h-2zM458 614h2v2h-2zM462 614h4v2h-4zM468 614h2v2h-2zM480 614h2v2h-2zM494 614h2v2h-2zM502 614h2v2h-2zM508 614h2v2h-2zM520 614h2v2h-2zM542 614h2v2h-2zM554 614h4v2h-4zM136 616h14v2h-14zM152 616h4v2h-4zM454 616h4v2h-4zM460 616h2v2h-2zM474 616h2v2h-2zM492 616h2v2h-2zM500 616h2v2h-2zM518 616h2v2h-2zM540 616h2v2h-2zM600 616h2v2h-2zM640 616h2v2h-2zM788 616h2v2h-2zM130 618h4v2h-4zM138 618h2v2h-2zM142 618h4v2h-4zM150 618h2v2h-2zM452 618h4v2h-4zM458 618h2v2h-2zM462 618h4v2h-4zM474 618h2v2h-2zM478 618h2v2h-2zM482 618h2v2h-2zM502 618h4v2h-4zM518 618h2v2h-2zM546 618h2v2h-2zM134 620h4v2h-4zM140 620h6v2h-6zM150 620h2v2h-2zM452 620h4v2h-4zM468 620h2v2h-2zM490 620h2v2h-2zM494 620h2v2h-2zM504 620h2v2h-2zM544 620h2v2h-2zM572 620h2v2h-2zM594 620h2v2h-2zM130 622h2v2h-2zM136 622h4v2h-4zM142 622h6v2h-6zM452 622h4v2h-4zM480 622h2v2h-2zM490 622h2v2h-2zM502 622h2v2h-2zM510 622h2v2h-2zM516 622h2v2h-2zM130 624h2v2h-2zM134 624h6v2h-6zM450 624h2v2h-2zM454 624h2v2h-2zM460 624h2v2h-2zM502 624h2v2h-2zM514 624h2v2h-2zM128 626h2v2h-2zM132 626h2v2h-2zM136 626h2v2h-2zM450 626h2v2h-2zM472 626h2v2h-2zM496 626h4v2h-4zM542 626h2v2h-2zM640 626h2v2h-2zM128 628h2v2h-2zM132 628h4v2h-4zM448 628h2v2h-2zM460 628h2v2h-2zM464 628h2v2h-2zM534 628h2v2h-2zM552 628h2v2h-2zM128 630h4v2h-4zM442 630h2v2h-2zM450 630h2v2h-2zM496 630h2v2h-2zM502 630h2v2h-2zM566 630h2v2h-2zM430 632h2v2h-2zM434 632h2v2h-2zM438 632h2v2h-2zM442 632h2v2h-2zM450 632h2v2h-2zM508 632h2v2h-2zM422 634h2v2h-2zM428 634h8v2h-8zM438 634h2v2h-2zM470 634h2v2h-2zM506 634h2v2h-2zM688 634h2v2h-2zM436 636h2v2h-2zM478 636h2v2h-2zM524 636h4v2h-4zM532 636h2v2h-2zM282 638h2v2h-2zM286 638h6v2h-6zM412 638h2v2h-2zM418 638h2v2h-2zM424 638h2v2h-2zM504 638h2v2h-2zM628 638h2v2h-2zM274 640h4v2h-4zM280 640h2v2h-2zM288 640h2v2h-2zM296 640h2v2h-2zM304 640h8v2h-8zM402 640h2v2h-2zM410 640h4v2h-4zM484 640h2v2h-2zM540 640h2v2h-2zM556 640h2v2h-2zM570 640h2v2h-2zM708 640h2v2h-2zM264 642h4v2h-4zM270 642h2v2h-2zM282 642h2v2h-2zM298 642h2v2h-2zM306 642h2v2h-2zM316 642h2v2h-2zM324 642h2v2h-2zM334 642h2v2h-2zM338 642h6v2h-6zM376 642h2v2h-2zM382 642h2v2h-2zM386 642h6v2h-6zM400 642h2v2h-2zM448 642h2v2h-2zM478 642h2v2h-2zM498 642h2v2h-2zM570 642h2v2h-2zM266 644h2v2h-2zM272 644h2v2h-2zM276 644h2v2h-2zM286 644h2v2h-2zM306 644h2v2h-2zM322 644h2v2h-2zM328 644h2v2h-2zM336 644h4v2h-4zM344 644h2v2h-2zM352 644h2v2h-2zM366 644h2v2h-2zM372 644h2v2h-2zM380 644h4v2h-4zM394 644h2v2h-2zM410 644h2v2h-2zM428 644h2v2h-2zM664 644h2v2h-2zM252 646h2v2h-2zM268 646h2v2h-2zM312 646h2v2h-2zM320 646h2v2h-2zM328 646h2v2h-2zM344 646h2v2h-2zM352 646h2v2h-2zM358 646h2v2h-2zM370 646h4v2h-4zM396 646h2v2h-2zM402 646h2v2h-2zM330 648h2v2h-2zM346 648h4v2h-4zM374 648h2v2h-2zM484 648h2v2h-2zM492 648h2v2h-2zM690 648h2v2h-2zM240 650h4v2h-4zM256 650h2v2h-2zM330 650h2v2h-2zM354 650h2v2h-2zM372 650h2v2h-2zM390 650h2v2h-2zM450 650h2v2h-2zM454 650h2v2h-2zM460 650h2v2h-2zM484 650h2v2h-2zM492 650h2v2h-2zM508 650h4v2h-4zM254 652h2v2h-2zM358 652h2v2h-2zM372 652h4v2h-4zM404 652h2v2h-2zM482 652h2v2h-2zM502 652h2v2h-2zM226 654h2v2h-2zM230 654h6v2h-6zM252 654h2v2h-2zM326 654h2v2h-2zM358 654h2v2h-2zM368 654h2v2h-2zM506 654h2v2h-2zM518 654h2v2h-2zM228 656h2v2h-2zM410 656h2v2h-2zM456 656h2v2h-2zM188 658h2v2h-2zM192 658h2v2h-2zM198 658h2v2h-2zM202 658h2v2h-2zM206 658h12v2h-12zM220 658h2v2h-2zM702 658h2v2h-2zM172 660h2v2h-2zM176 660h2v2h-2zM184 660h2v2h-2zM188 660h2v2h-2zM194 660h2v2h-2zM202 660h2v2h-2zM212 660h2v2h-2zM428 660h2v2h-2zM498 660h2v2h-2zM570 660h2v2h-2zM154 662h2v2h-2zM158 662h12v2h-12zM176 662h2v2h-2zM558 662h2v2h-2zM726 662h2v2h-2zM162 664h2v2h-2zM172 664h2v2h-2zM202 664h2v2h-2zM512 664h2v2h-2z" fill="#80c75c" shape-rendering="crispEdges"/><rect x="93.5" y="8.0" width="706.5" height="658.5" rx="1.5" fill="none" stroke="#141414" stroke-width="2.4"/><path d="M85.5 664.8H93.5M95.5 666.5V674.5M89.0 639.2H93.5M123.0 666.5V671.0M89.0 613.6H93.5M150.5 666.5V671.0M89.0 588.0H93.5M178.0 666.5V671.0M89.0 562.3H93.5M205.5 666.5V671.0M85.5 536.7H93.5M233.1 666.5V674.5M89.0 511.1H93.5M260.6 666.5V671.0M89.0 485.5H93.5M288.1 666.5V671.0M89.0 459.9H93.5M315.6 666.5V671.0M89.0 434.3H93.5M343.1 666.5V671.0M85.5 408.6H93.5M370.6 666.5V674.5M89.0 383.0H93.5M398.1 666.5V671.0M89.0 357.4H93.5M425.6 666.5V671.0M89.0 331.8H93.5M453.2 666.5V671.0M89.0 306.2H93.5M480.7 666.5V671.0M85.5 280.6H93.5M508.2 666.5V674.5M89.0 254.9H93.5M535.7 666.5V671.0M89.0 229.3H93.5M563.2 666.5V671.0M89.0 203.7H93.5M590.7 666.5V671.0M89.0 178.1H93.5M618.2 666.5V671.0M85.5 152.5H93.5M645.7 666.5V674.5M89.0 126.9H93.5M673.3 666.5V671.0M89.0 101.2H93.5M700.8 666.5V671.0M89.0 75.6H93.5M728.3 666.5V671.0M89.0 50.0H93.5M755.8 666.5V671.0M85.5 24.4H93.5M783.3 666.5V674.5" stroke="#141414" stroke-width="2.2" fill="none"/><text transform="translate(73.2,664.8) rotate(-90) scale(0.980,1.200)" x="0" y="5.73" text-anchor="middle" font-size="16" font-weight="normal" fill="#222" stroke="#222" stroke-width="0.35">0</text><text transform="translate(95.5,688.5) scale(0.950,1.030)" x="0" y="5.73" text-anchor="middle" font-size="16" font-weight="normal" fill="#222" stroke="#222" stroke-width="0.35">0</text><text transform="translate(73.2,536.7) rotate(-90) scale(0.980,1.200)" x="0" y="5.73" text-anchor="middle" font-size="16" font-weight="normal" fill="#222" stroke="#222" stroke-width="0.35">200</text><text transform="translate(233.1,688.5) scale(0.950,1.030)" x="0" y="5.73" text-anchor="middle" font-size="16" font-weight="normal" fill="#222" stroke="#222" stroke-width="0.35">200</text><text transform="translate(73.2,408.6) rotate(-90) scale(0.980,1.200)" x="0" y="5.73" text-anchor="middle" font-size="16" font-weight="normal" fill="#222" stroke="#222" stroke-width="0.35">400</text><text transform="translate(370.6,688.5) scale(0.950,1.030)" x="0" y="5.73" text-anchor="middle" font-size="16" font-weight="normal" fill="#222" stroke="#222" stroke-width="0.35">400</text><text transform="translate(73.2,280.6) rotate(-90) scale(0.980,1.200)" x="0" y="5.73" text-anchor="middle" font-size="16" font-weight="normal" fill="#222" stroke="#222" stroke-width="0.35">600</text><text transform="translate(508.2,688.5) scale(0.950,1.030)" x="0" y="5.73" text-anchor="middle" font-size="16" font-weight="normal" fill="#222" stroke="#222" stroke-width="0.35">600</text><text transform="translate(73.2,152.5) rotate(-90) scale(0.980,1.200)" x="0" y="5.73" text-anchor="middle" font-size="16" font-weight="normal" fill="#222" stroke="#222" stroke-width="0.35">800</text><text transform="translate(645.7,688.5) scale(0.950,1.030)" x="0" y="5.73" text-anchor="middle" font-size="16" font-weight="normal" fill="#222" stroke="#222" stroke-width="0.35">800</text><text transform="translate(73.2,24.4) rotate(-90) scale(0.980,1.200)" x="0" y="5.73" text-anchor="middle" font-size="16" font-weight="normal" fill="#222" stroke="#222" stroke-width="0.35">1000</text><text transform="translate(783.3,688.5) scale(0.950,1.030)" x="0" y="5.73" text-anchor="middle" font-size="16" font-weight="normal" fill="#222" stroke="#222" stroke-width="0.35">1000</text><text transform="translate(54.6,340.0) rotate(-90) scale(1.020,1.220)" x="0" y="5.73" text-anchor="middle" font-size="16" font-weight="normal" fill="#222" stroke="#222" stroke-width="0.35">SSC-H</text><text transform="translate(445.0,704.6) scale(1.020,1.180)" x="0" y="5.73" text-anchor="middle" font-size="16" font-weight="normal" fill="#222" stroke="#222" stroke-width="0.35">FSC-H</text><path d="M495.3 517.3 L625.8 483.0 L682.2 518.8 L653.7 567.2 L658.1 602.4 L490.9 602.4Z" fill="none" stroke="#141414" stroke-width="2.6" stroke-linejoin="round"/><text x="0" y="0" font-size="18" font-weight="bold" fill="#111" transform="translate(548.3 484) scale(0.82 1)">R1</text><text x="577" y="478.2" font-size="18" font-weight="bold" fill="#111">= Monocytes</text><path d="M1126 84h2v2h-2zM1136 84h2v2h-2zM1122 88h2v2h-2zM1136 88h2v2h-2zM1120 90h2v2h-2zM1094 92h2v2h-2zM1108 92h2v2h-2zM1112 94h2v2h-2zM1094 96h2v2h-2zM1104 96h2v2h-2zM1116 96h2v2h-2zM1126 96h2v2h-2zM1102 98h2v2h-2zM1116 98h2v2h-2zM1122 98h2v2h-2zM1128 98h2v2h-2zM1104 100h2v2h-2zM1180 100h2v2h-2zM1120 102h2v2h-2zM1134 102h4v2h-4zM1178 102h2v2h-2zM1094 104h2v2h-2zM1104 104h2v2h-2zM1118 104h2v2h-2zM1130 104h2v2h-2zM1142 104h2v2h-2zM1072 106h2v2h-2zM1082 106h2v2h-2zM1102 106h2v2h-2zM1126 106h2v2h-2zM1138 106h2v2h-2zM1142 106h2v2h-2zM1080 108h4v2h-4zM1092 108h2v2h-2zM1096 108h2v2h-2zM1102 108h2v2h-2zM1118 108h4v2h-4zM1124 108h2v2h-2zM1070 110h2v2h-2zM1088 110h2v2h-2zM1092 110h4v2h-4zM1098 110h2v2h-2zM1120 110h2v2h-2zM1124 110h2v2h-2zM1070 112h2v2h-2zM1098 112h2v2h-2zM1112 112h2v2h-2zM1126 112h2v2h-2zM1138 112h2v2h-2zM1142 112h2v2h-2zM1154 112h2v2h-2zM1080 114h2v2h-2zM1088 114h2v2h-2zM1092 114h2v2h-2zM1096 114h2v2h-2zM1102 114h2v2h-2zM1116 114h4v2h-4zM1122 114h2v2h-2zM1128 114h2v2h-2zM1146 114h2v2h-2zM1150 114h2v2h-2zM1076 116h2v2h-2zM1102 116h4v2h-4zM1110 116h2v2h-2zM1124 116h2v2h-2zM1130 116h6v2h-6zM1138 116h2v2h-2zM1082 118h2v2h-2zM1086 118h2v2h-2zM1100 118h2v2h-2zM1110 118h2v2h-2zM1116 118h2v2h-2zM1128 118h2v2h-2zM1084 120h2v2h-2zM1092 120h2v2h-2zM1096 120h2v2h-2zM1108 120h2v2h-2zM1114 120h2v2h-2zM1122 120h2v2h-2zM1128 120h2v2h-2zM1134 120h2v2h-2zM1086 122h2v2h-2zM1098 122h2v2h-2zM1104 122h6v2h-6zM1126 122h2v2h-2zM1082 124h2v2h-2zM1092 124h4v2h-4zM1100 124h4v2h-4zM1112 124h4v2h-4zM1132 124h2v2h-2zM1168 124h2v2h-2zM1080 126h2v2h-2zM1084 126h6v2h-6zM1092 126h4v2h-4zM1110 126h2v2h-2zM1122 126h6v2h-6zM1138 126h4v2h-4zM1146 126h2v2h-2zM1086 128h2v2h-2zM1108 128h2v2h-2zM1112 128h2v2h-2zM1116 128h4v2h-4zM1124 128h2v2h-2zM1130 128h2v2h-2zM1134 128h2v2h-2zM1144 128h2v2h-2zM1154 128h2v2h-2zM1164 128h2v2h-2zM1084 130h2v2h-2zM1090 130h2v2h-2zM1106 130h2v2h-2zM1116 130h2v2h-2zM1140 130h2v2h-2zM1152 130h2v2h-2zM1044 132h2v2h-2zM1086 132h2v2h-2zM1106 132h2v2h-2zM1112 132h2v2h-2zM1126 132h2v2h-2zM1130 132h4v2h-4zM1146 132h4v2h-4zM1088 134h4v2h-4zM1094 134h2v2h-2zM1100 134h2v2h-2zM1118 134h4v2h-4zM1124 134h2v2h-2zM1130 134h2v2h-2zM1136 134h2v2h-2zM1148 134h2v2h-2zM1154 134h2v2h-2zM1158 134h2v2h-2zM1080 136h2v2h-2zM1088 136h2v2h-2zM1096 136h2v2h-2zM1106 136h4v2h-4zM1112 136h2v2h-2zM1116 136h2v2h-2zM1148 136h2v2h-2zM1160 136h2v2h-2zM1094 138h2v2h-2zM1098 138h2v2h-2zM1110 138h2v2h-2zM1114 138h4v2h-4zM1122 138h2v2h-2zM1132 138h4v2h-4zM1142 138h2v2h-2zM1080 140h2v2h-2zM1084 140h4v2h-4zM1094 140h2v2h-2zM1100 140h2v2h-2zM1104 140h2v2h-2zM1108 140h6v2h-6zM1116 140h4v2h-4zM1128 140h2v2h-2zM1138 140h2v2h-2zM1154 140h4v2h-4zM1082 142h2v2h-2zM1092 142h2v2h-2zM1096 142h4v2h-4zM1106 142h6v2h-6zM1114 142h2v2h-2zM1120 142h4v2h-4zM1128 142h8v2h-8zM1092 144h2v2h-2zM1096 144h2v2h-2zM1104 144h10v2h-10zM1118 144h2v2h-2zM1122 144h2v2h-2zM1126 144h10v2h-10zM1138 144h2v2h-2zM1146 144h2v2h-2zM1154 144h2v2h-2zM1160 144h2v2h-2zM1086 146h2v2h-2zM1094 146h2v2h-2zM1102 146h4v2h-4zM1112 146h6v2h-6zM1120 146h6v2h-6zM1136 146h6v2h-6zM1154 146h4v2h-4zM1078 148h2v2h-2zM1082 148h2v2h-2zM1092 148h2v2h-2zM1102 148h2v2h-2zM1110 148h2v2h-2zM1114 148h4v2h-4zM1120 148h4v2h-4zM1126 148h4v2h-4zM1134 148h2v2h-2zM1138 148h2v2h-2zM1142 148h2v2h-2zM1146 148h10v2h-10zM1160 148h2v2h-2zM1080 150h2v2h-2zM1086 150h4v2h-4zM1094 150h2v2h-2zM1100 150h4v2h-4zM1106 150h4v2h-4zM1112 150h2v2h-2zM1116 150h2v2h-2zM1120 150h2v2h-2zM1124 150h2v2h-2zM1128 150h6v2h-6zM1138 150h2v2h-2zM1142 150h10v2h-10zM1076 152h2v2h-2zM1098 152h4v2h-4zM1104 152h6v2h-6zM1114 152h12v2h-12zM1128 152h6v2h-6zM1136 152h4v2h-4zM1142 152h2v2h-2zM1146 152h2v2h-2zM1152 152h4v2h-4zM1158 152h2v2h-2zM1164 152h2v2h-2zM1066 154h2v2h-2zM1074 154h2v2h-2zM1088 154h2v2h-2zM1104 154h8v2h-8zM1116 154h6v2h-6zM1124 154h2v2h-2zM1128 154h6v2h-6zM1138 154h2v2h-2zM1142 154h4v2h-4zM1150 154h6v2h-6zM1158 154h4v2h-4zM1166 154h2v2h-2zM1074 156h2v2h-2zM1080 156h2v2h-2zM1088 156h2v2h-2zM1096 156h2v2h-2zM1102 156h2v2h-2zM1106 156h2v2h-2zM1110 156h2v2h-2zM1114 156h2v2h-2zM1118 156h16v2h-16zM1136 156h6v2h-6zM1146 156h4v2h-4zM1152 156h4v2h-4zM1160 156h2v2h-2zM1166 156h4v2h-4zM1064 158h2v2h-2zM1084 158h4v2h-4zM1090 158h8v2h-8zM1102 158h10v2h-10zM1114 158h6v2h-6zM1122 158h36v2h-36zM1090 160h4v2h-4zM1098 160h6v2h-6zM1108 160h2v2h-2zM1112 160h8v2h-8zM1122 160h20v2h-20zM1144 160h8v2h-8zM1156 160h2v2h-2zM1160 160h2v2h-2zM1076 162h2v2h-2zM1080 162h2v2h-2zM1084 162h4v2h-4zM1092 162h2v2h-2zM1096 162h2v2h-2zM1104 162h10v2h-10zM1118 162h28v2h-28zM1150 162h4v2h-4zM1160 162h8v2h-8zM1008 164h2v2h-2zM1064 164h2v2h-2zM1078 164h2v2h-2zM1088 164h2v2h-2zM1094 164h4v2h-4zM1104 164h2v2h-2zM1108 164h2v2h-2zM1114 164h34v2h-34zM1150 164h2v2h-2zM1154 164h4v2h-4zM1160 164h2v2h-2zM1084 166h4v2h-4zM1094 166h2v2h-2zM1100 166h6v2h-6zM1108 166h42v2h-42zM1152 166h2v2h-2zM1156 166h8v2h-8zM1082 168h4v2h-4zM1096 168h4v2h-4zM1104 168h46v2h-46zM1152 168h6v2h-6zM1160 168h10v2h-10zM1078 170h2v2h-2zM1094 170h2v2h-2zM1098 170h2v2h-2zM1106 170h2v2h-2zM1110 170h42v2h-42zM1154 170h6v2h-6zM1162 170h2v2h-2zM1168 170h2v2h-2zM1076 172h4v2h-4zM1082 172h6v2h-6zM1090 172h4v2h-4zM1102 172h2v2h-2zM1106 172h6v2h-6zM1116 172h34v2h-34zM1152 172h4v2h-4zM1160 172h4v2h-4zM1166 172h2v2h-2zM1170 172h2v2h-2zM1068 174h2v2h-2zM1074 174h6v2h-6zM1092 174h14v2h-14zM1108 174h6v2h-6zM1116 174h36v2h-36zM1154 174h6v2h-6zM1168 174h2v2h-2zM1072 176h2v2h-2zM1078 176h2v2h-2zM1082 176h2v2h-2zM1092 176h2v2h-2zM1104 176h4v2h-4zM1110 176h40v2h-40zM1152 176h2v2h-2zM1156 176h2v2h-2zM1160 176h2v2h-2zM1170 176h2v2h-2zM1064 178h2v2h-2zM1092 178h2v2h-2zM1098 178h2v2h-2zM1104 178h4v2h-4zM1110 178h38v2h-38zM1150 178h4v2h-4zM1156 178h2v2h-2zM1168 178h2v2h-2zM1082 180h4v2h-4zM1088 180h2v2h-2zM1094 180h8v2h-8zM1104 180h2v2h-2zM1110 180h44v2h-44zM1156 180h12v2h-12zM1082 182h2v2h-2zM1092 182h2v2h-2zM1096 182h4v2h-4zM1110 182h36v2h-36zM1148 182h2v2h-2zM1152 182h4v2h-4zM1160 182h4v2h-4zM1072 184h2v2h-2zM1098 184h2v2h-2zM1110 184h2v2h-2zM1116 184h2v2h-2zM1120 184h26v2h-26zM1148 184h6v2h-6zM1156 184h4v2h-4zM1164 184h2v2h-2zM1070 186h2v2h-2zM1080 186h2v2h-2zM1100 186h2v2h-2zM1114 186h36v2h-36zM1152 186h2v2h-2zM1160 186h2v2h-2zM1086 188h2v2h-2zM1104 188h2v2h-2zM1108 188h10v2h-10zM1122 188h34v2h-34zM1160 188h4v2h-4zM1066 190h2v2h-2zM1096 190h4v2h-4zM1102 190h4v2h-4zM1112 190h4v2h-4zM1120 190h10v2h-10zM1132 190h26v2h-26zM1162 190h2v2h-2zM1170 190h2v2h-2zM1086 192h4v2h-4zM1092 192h2v2h-2zM1108 192h8v2h-8zM1120 192h34v2h-34zM1156 192h4v2h-4zM966 194h2v2h-2zM1054 194h2v2h-2zM1090 194h2v2h-2zM1112 194h2v2h-2zM1120 194h8v2h-8zM1130 194h4v2h-4zM1136 194h2v2h-2zM1140 194h8v2h-8zM1150 194h2v2h-2zM1162 194h4v2h-4zM1076 196h2v2h-2zM1080 196h4v2h-4zM1090 196h2v2h-2zM1096 196h2v2h-2zM1100 196h2v2h-2zM1104 196h2v2h-2zM1114 196h2v2h-2zM1118 196h4v2h-4zM1130 196h10v2h-10zM1144 196h10v2h-10zM1160 196h2v2h-2zM1084 198h2v2h-2zM1108 198h4v2h-4zM1114 198h2v2h-2zM1124 198h6v2h-6zM1132 198h14v2h-14zM1148 198h4v2h-4zM1160 198h4v2h-4zM1088 200h2v2h-2zM1106 200h2v2h-2zM1112 200h4v2h-4zM1120 200h4v2h-4zM1126 200h2v2h-2zM1130 200h2v2h-2zM1138 200h4v2h-4zM1144 200h2v2h-2zM1152 200h2v2h-2zM1158 200h2v2h-2zM1086 202h2v2h-2zM1094 202h2v2h-2zM1100 202h4v2h-4zM1114 202h2v2h-2zM1120 202h2v2h-2zM1126 202h2v2h-2zM1132 202h2v2h-2zM1136 202h4v2h-4zM1142 202h2v2h-2zM1146 202h12v2h-12zM1166 202h2v2h-2zM1090 204h2v2h-2zM1120 204h6v2h-6zM1136 204h2v2h-2zM1142 204h14v2h-14zM1118 206h2v2h-2zM1124 206h4v2h-4zM1130 206h2v2h-2zM1140 206h2v2h-2zM1150 206h2v2h-2zM1156 206h2v2h-2zM1162 206h2v2h-2zM1166 206h2v2h-2zM1094 208h2v2h-2zM1108 208h2v2h-2zM1112 208h2v2h-2zM1122 208h2v2h-2zM1128 208h8v2h-8zM1140 208h2v2h-2zM1152 208h2v2h-2zM1156 208h4v2h-4zM1164 208h2v2h-2zM1168 208h2v2h-2zM1106 210h2v2h-2zM1122 210h2v2h-2zM1128 210h2v2h-2zM1134 210h2v2h-2zM1140 210h4v2h-4zM1146 210h2v2h-2zM1150 210h2v2h-2zM1162 210h2v2h-2zM1100 212h2v2h-2zM1116 212h2v2h-2zM1148 212h4v2h-4zM1154 212h2v2h-2zM1110 214h4v2h-4zM1128 214h2v2h-2zM1134 214h6v2h-6zM1150 214h4v2h-4zM1156 214h2v2h-2zM1160 214h2v2h-2zM1166 214h2v2h-2zM1108 216h2v2h-2zM1134 216h2v2h-2zM1138 216h2v2h-2zM1126 218h2v2h-2zM1130 218h2v2h-2zM1158 218h4v2h-4zM1116 220h2v2h-2zM1144 220h2v2h-2zM1148 220h4v2h-4zM1156 220h2v2h-2zM1094 222h2v2h-2zM1116 222h2v2h-2zM1132 222h4v2h-4zM1142 222h2v2h-2zM1148 222h2v2h-2zM1156 222h2v2h-2zM1078 224h2v2h-2zM1102 224h2v2h-2zM1122 224h2v2h-2zM1136 224h2v2h-2zM1142 224h2v2h-2zM1150 224h2v2h-2zM1160 224h2v2h-2zM1128 226h4v2h-4zM1134 226h2v2h-2zM1140 226h2v2h-2zM1144 226h6v2h-6zM1110 228h2v2h-2zM1116 228h2v2h-2zM1134 228h2v2h-2zM1128 230h2v2h-2zM1132 230h4v2h-4zM1138 230h2v2h-2zM1146 230h2v2h-2zM1154 230h2v2h-2zM1130 232h2v2h-2zM1136 232h2v2h-2zM1148 232h2v2h-2zM1126 234h4v2h-4zM1134 234h2v2h-2zM1160 234h2v2h-2zM1132 236h4v2h-4zM1140 236h2v2h-2zM1146 236h2v2h-2zM1160 236h2v2h-2zM1124 238h2v2h-2zM1134 238h2v2h-2zM1154 238h2v2h-2zM1166 238h2v2h-2zM1128 240h2v2h-2zM1146 240h2v2h-2zM1164 240h2v2h-2zM1142 242h2v2h-2zM1148 242h2v2h-2zM1156 242h2v2h-2zM1160 242h2v2h-2zM1120 244h2v2h-2zM1146 244h2v2h-2zM1158 244h4v2h-4zM1142 246h2v2h-2zM1152 246h2v2h-2zM1158 246h2v2h-2zM1108 248h2v2h-2zM1128 248h4v2h-4zM1146 248h2v2h-2zM1150 248h2v2h-2zM1128 250h2v2h-2zM1144 250h2v2h-2zM1150 250h4v2h-4zM1136 252h2v2h-2zM1148 252h2v2h-2zM1158 252h2v2h-2zM1156 254h4v2h-4zM1138 256h2v2h-2zM1158 256h2v2h-2zM1134 258h2v2h-2zM1158 260h2v2h-2zM1132 262h2v2h-2zM1146 262h4v2h-4zM1162 262h2v2h-2zM1130 264h2v2h-2zM1134 266h2v2h-2zM1146 266h2v2h-2zM1126 268h2v2h-2zM1138 268h2v2h-2zM1134 270h2v2h-2zM1146 270h4v2h-4zM1142 272h2v2h-2zM1154 272h4v2h-4zM1148 274h2v2h-2zM1152 276h2v2h-2zM1130 278h2v2h-2zM1144 278h2v2h-2zM1148 278h2v2h-2zM1146 282h2v2h-2zM980 286h2v2h-2z" fill="#c20006" shape-rendering="crispEdges"/><rect x="911.8" y="43" width="319.9" height="244.3" rx="1.5" fill="none" stroke="#141414" stroke-width="2.4"/><rect x="1054.3" y="49.2" width="4.3" height="102.1" fill="#666"/><path d="M925.6 49.2H1054.3V151.3H925.6Z M1058.6 49.2H1226V153.3H1058.6Z M1015.5 153H1175.3V275.8H1015.5Z" fill="none" stroke="#141414" stroke-width="2.2" stroke-linejoin="round"/><path d="M904.8 286.5H911.8M912.5 287.3V294.3M908.3 268.3H911.8M936.3 287.3V290.8M908.3 257.6H911.8M950.2 287.3V290.8M908.3 250.1H911.8M960.1 287.3V290.8M908.3 244.2H911.8M967.8 287.3V290.8M908.3 239.4H911.8M974.0 287.3V290.8M908.3 235.4H911.8M979.3 287.3V290.8M908.3 231.9H911.8M983.9 287.3V290.8M908.3 228.8H911.8M987.9 287.3V290.8M904.8 226.0H911.8M991.5 287.3V294.3M908.3 207.8H911.8M1015.3 287.3V290.8M908.3 197.1H911.8M1029.3 287.3V290.8M908.3 189.6H911.8M1039.1 287.3V290.8M908.3 183.7H911.8M1046.8 287.3V290.8M908.3 178.9H911.8M1053.1 287.3V290.8M908.3 174.9H911.8M1058.4 287.3V290.8M908.3 171.4H911.8M1062.9 287.3V290.8M908.3 168.3H911.8M1067.0 287.3V290.8M904.8 165.5H911.8M1070.6 287.3V294.3M908.3 147.3H911.8M1094.4 287.3V290.8M908.3 136.6H911.8M1108.3 287.3V290.8M908.3 129.1H911.8M1118.2 287.3V290.8M908.3 123.2H911.8M1125.9 287.3V290.8M908.3 118.4H911.8M1132.1 287.3V290.8M908.3 114.4H911.8M1137.4 287.3V290.8M908.3 110.9H911.8M1142.0 287.3V290.8M908.3 107.8H911.8M1146.0 287.3V290.8M904.8 105.0H911.8M1149.7 287.3V294.3M908.3 86.8H911.8M1173.4 287.3V290.8M908.3 76.1H911.8M1187.4 287.3V290.8M908.3 68.6H911.8M1197.2 287.3V290.8M908.3 62.7H911.8M1204.9 287.3V290.8M908.3 57.9H911.8M1211.2 287.3V290.8M908.3 53.9H911.8M1216.5 287.3V290.8M908.3 50.4H911.8M1221.0 287.3V290.8M908.3 47.3H911.8M1225.1 287.3V290.8M904.8 44.5H911.8 M1228.7 287.3V294.3" stroke="#141414" stroke-width="2" fill="none"/><text transform="translate(908.7,309.8) scale(0.920,1.220)" x="0" y="5.73" text-anchor="middle" font-size="16" font-weight="normal" fill="#222" stroke="#222" stroke-width="0.35">10</text><text transform="translate(923.0,302.8) scale(1.200,1.100)" x="0" y="5.73" text-anchor="middle" font-size="16" font-weight="normal" fill="#222" stroke="#222" stroke-width="0.35">0</text><text transform="translate(890.2,292.5) rotate(-90) scale(0.950,1.200)" x="0" y="5.73" text-anchor="middle" font-size="16" font-weight="normal" fill="#222" stroke="#222" stroke-width="0.35">10</text><text transform="translate(882.0,275.5) rotate(-90) scale(1.050,1.050)" x="0" y="5.37" text-anchor="middle" font-size="15" font-weight="normal" fill="#222" stroke="#222" stroke-width="0.35">0</text><text transform="translate(987.8,309.8) scale(0.920,1.220)" x="0" y="5.73" text-anchor="middle" font-size="16" font-weight="normal" fill="#222" stroke="#222" stroke-width="0.35">10</text><text transform="translate(1002.0,302.8) scale(1.200,1.100)" x="0" y="5.73" text-anchor="middle" font-size="16" font-weight="normal" fill="#222" stroke="#222" stroke-width="0.35">1</text><text transform="translate(890.2,232.0) rotate(-90) scale(0.950,1.200)" x="0" y="5.73" text-anchor="middle" font-size="16" font-weight="normal" fill="#222" stroke="#222" stroke-width="0.35">10</text><text transform="translate(882.0,215.0) rotate(-90) scale(1.050,1.050)" x="0" y="5.37" text-anchor="middle" font-size="15" font-weight="normal" fill="#222" stroke="#222" stroke-width="0.35">1</text><text transform="translate(1066.8,309.8) scale(0.920,1.220)" x="0" y="5.73" text-anchor="middle" font-size="16" font-weight="normal" fill="#222" stroke="#222" stroke-width="0.35">10</text><text transform="translate(1081.1,302.8) scale(1.200,1.100)" x="0" y="5.73" text-anchor="middle" font-size="16" font-weight="normal" fill="#222" stroke="#222" stroke-width="0.35">2</text><text transform="translate(890.2,171.5) rotate(-90) scale(0.950,1.200)" x="0" y="5.73" text-anchor="middle" font-size="16" font-weight="normal" fill="#222" stroke="#222" stroke-width="0.35">10</text><text transform="translate(882.0,154.5) rotate(-90) scale(1.050,1.050)" x="0" y="5.37" text-anchor="middle" font-size="15" font-weight="normal" fill="#222" stroke="#222" stroke-width="0.35">2</text><text transform="translate(1145.9,309.8) scale(0.920,1.220)" x="0" y="5.73" text-anchor="middle" font-size="16" font-weight="normal" fill="#222" stroke="#222" stroke-width="0.35">10</text><text transform="translate(1160.2,302.8) scale(1.200,1.100)" x="0" y="5.73" text-anchor="middle" font-size="16" font-weight="normal" fill="#222" stroke="#222" stroke-width="0.35">3</text><text transform="translate(890.2,111.0) rotate(-90) scale(0.950,1.200)" x="0" y="5.73" text-anchor="middle" font-size="16" font-weight="normal" fill="#222" stroke="#222" stroke-width="0.35">10</text><text transform="translate(882.0,94.0) rotate(-90) scale(1.050,1.050)" x="0" y="5.37" text-anchor="middle" font-size="15" font-weight="normal" fill="#222" stroke="#222" stroke-width="0.35">3</text><text transform="translate(1224.9,309.8) scale(0.920,1.220)" x="0" y="5.73" text-anchor="middle" font-size="16" font-weight="normal" fill="#222" stroke="#222" stroke-width="0.35">10</text><text transform="translate(1239.2,302.8) scale(1.200,1.100)" x="0" y="5.73" text-anchor="middle" font-size="16" font-weight="normal" fill="#222" stroke="#222" stroke-width="0.35">4</text><text transform="translate(890.2,50.5) rotate(-90) scale(0.950,1.200)" x="0" y="5.73" text-anchor="middle" font-size="16" font-weight="normal" fill="#222" stroke="#222" stroke-width="0.35">10</text><text transform="translate(882.0,33.5) rotate(-90) scale(1.050,1.050)" x="0" y="5.37" text-anchor="middle" font-size="15" font-weight="normal" fill="#222" stroke="#222" stroke-width="0.35">4</text><text transform="translate(1001.9,113.7) scale(1.050,1.150)" x="0" y="5.73" text-anchor="middle" font-size="16" font-weight="normal" fill="#222" stroke="#222" stroke-width="0.8">R2</text><text transform="translate(1153.0,115.0) scale(1.050,1.150)" x="0" y="5.73" text-anchor="middle" font-size="16" font-weight="normal" fill="#222" stroke="#222" stroke-width="0.8">R3</text><text transform="translate(1105.7,226.6) scale(1.050,1.150)" x="0" y="5.73" text-anchor="middle" font-size="16" font-weight="normal" fill="#222" stroke="#222" stroke-width="0.8">R4</text><text transform="translate(857.5,165.0) rotate(-90) scale(1.020,1.050)" x="0" y="8.23" text-anchor="middle" font-size="23" font-weight="bold" fill="#222" stroke="#222" stroke-width="0.3">CD16</text><text transform="translate(1064.3,337.0)" x="0" y="8.23" text-anchor="middle" font-size="23" font-weight="bold" fill="#222" stroke="#222" stroke-width="0.3">CD14</text><text x="887.0" y="401.9" font-size="23" font-weight="bold" text-anchor="start" fill="#111">Gate: R1= Monocytes</text><text x="887.0" y="429.1" font-size="23" font-weight="bold" text-anchor="start" fill="#111">Gated Events: 7175</text><text x="887.0" y="456.4" font-size="23" font-weight="bold" text-anchor="start" fill="#111">Total Events: 92400</text><text x="887.0" y="511.9" font-size="23" font-weight="bold" text-anchor="start" fill="#111">Region</text><text x="1070.5" y="511.9" font-size="23" font-weight="bold" text-anchor="end" fill="#111">Events</text><text x="1200.4" y="511.9" font-size="23" font-weight="bold" text-anchor="end" fill="#111">% Gated</text><text x="1319.1" y="511.9" font-size="23" font-weight="bold" text-anchor="end" fill="#111">% Total</text><rect x="879.2" y="518.2" width="451.5" height="3" fill="#111"/><text x="924.6" y="539.8" font-size="23" font-weight="bold" text-anchor="start" fill="#111">R1</text><text x="1068.5" y="539.8" font-size="23" font-weight="bold" text-anchor="end" fill="#111">7175</text><text x="1202.2" y="539.8" font-size="23" font-weight="bold" text-anchor="end" fill="#111">100.00</text><text x="1324.4" y="539.8" font-size="23" font-weight="bold" text-anchor="end" fill="#111">7.77</text><text x="924.6" y="567.1" font-size="23" font-weight="bold" text-anchor="start" fill="#111">R2</text><text x="1068.5" y="567.1" font-size="23" font-weight="bold" text-anchor="end" fill="#111">3</text><text x="1202.2" y="567.1" font-size="23" font-weight="bold" text-anchor="end" fill="#111">0.04</text><text x="1324.4" y="567.1" font-size="23" font-weight="bold" text-anchor="end" fill="#111">0.00</text><text x="924.6" y="594.5" font-size="23" font-weight="bold" text-anchor="start" fill="#111">R3</text><text x="1068.5" y="594.5" font-size="23" font-weight="bold" text-anchor="end" fill="#111">964</text><text x="1202.2" y="594.5" font-size="23" font-weight="bold" text-anchor="end" fill="#111">13.71</text><text x="1324.4" y="594.5" font-size="23" font-weight="bold" text-anchor="end" fill="#111">1.06</text><text x="924.6" y="621.8" font-size="23" font-weight="bold" text-anchor="start" fill="#111">R4</text><text x="1068.5" y="621.8" font-size="23" font-weight="bold" text-anchor="end" fill="#111">6268</text><text x="1202.2" y="621.8" font-size="23" font-weight="bold" text-anchor="end" fill="#111">87.36</text><text x="1324.4" y="621.8" font-size="23" font-weight="bold" text-anchor="end" fill="#111">6.78</text><path d="M67.3 1083.8L67.3 1083.0L68.3 1083.8L69.3 1083.6L70.3 1082.5L71.3 1082.5L72.3 1082.3L73.3 1082.8L74.3 1082.4L75.3 1082.7L76.3 1081.0L77.3 1083.1L78.3 1081.9L79.3 1082.3L80.3 1081.7L81.3 1081.5L82.3 1081.9L83.3 1082.0L84.3 1081.3L85.3 1081.2L86.3 1081.6L87.3 1080.6L88.3 1080.1L89.3 1081.2L90.3 1080.5L91.3 1079.7L92.3 1080.4L93.3 1080.6L94.3 1080.1L95.3 1079.9L96.3 1080.8L97.3 1081.3L98.3 1080.6L99.3 1080.2L100.3 1080.9L101.3 1081.1L102.3 1080.5L103.3 1081.0L104.3 1081.3L105.3 1080.4L106.3 1080.0L107.3 1080.7L108.3 1080.6L109.3 1081.2L110.3 1079.6L111.3 1080.0L112.3 1079.8L113.3 1079.2L114.3 1080.4L115.3 1080.6L116.3 1079.8L117.3 1081.1L118.3 1080.8L119.3 1080.6L120.3 1080.4L121.3 1080.8L122.3 1079.3L123.3 1080.5L124.3 1080.5L125.3 1078.9L126.3 1080.2L127.3 1079.8L128.3 1080.5L129.3 1079.7L130.3 1079.9L131.3 1080.2L132.3 1079.4L133.3 1080.3L134.3 1079.8L135.3 1080.2L136.3 1079.5L137.3 1080.6L138.3 1080.2L139.3 1079.7L140.3 1080.2L141.3 1080.6L142.3 1080.9L143.3 1078.7L144.3 1080.3L145.3 1080.0L146.3 1079.7L147.3 1079.1L148.3 1080.5L149.3 1078.9L150.3 1080.0L151.3 1080.5L152.3 1078.6L153.3 1079.4L154.3 1078.8L155.3 1079.8L156.3 1080.6L157.3 1080.9L158.3 1078.4L159.3 1079.2L160.3 1080.0L161.3 1080.5L162.3 1079.8L163.3 1079.0L164.3 1079.7L165.3 1079.4L166.3 1079.3L167.3 1078.9L168.3 1079.7L169.3 1079.6L170.3 1079.2L171.3 1079.1L172.3 1078.3L173.3 1078.7L174.3 1079.7L175.3 1078.7L176.3 1077.8L177.3 1079.6L178.3 1078.9L179.3 1079.9L180.3 1078.4L181.3 1078.0L182.3 1077.3L183.3 1079.0L184.3 1079.8L185.3 1077.4L186.3 1077.4L187.3 1078.2L188.3 1077.1L189.3 1077.4L190.3 1077.3L191.3 1077.6L192.3 1078.1L193.3 1077.3L194.3 1077.8L195.3 1076.8L196.3 1077.2L197.3 1075.4L198.3 1075.4L199.3 1076.3L200.3 1074.8L201.3 1075.0L202.3 1074.4L203.3 1074.4L204.3 1073.5L205.3 1073.0L206.3 1071.6L207.3 1070.6L208.3 1070.0L209.3 1069.6L210.3 1068.6L211.3 1068.5L212.3 1068.6L213.3 1069.3L214.3 1069.3L215.3 1068.5L216.3 1070.4L217.3 1071.1L218.3 1070.6L219.3 1068.7L220.3 1066.1L221.3 1064.5L222.3 1065.4L223.3 1063.5L224.3 1063.6L225.3 1063.0L226.3 1060.0L227.3 1061.9L228.3 1062.7L229.3 1063.6L230.3 1064.4L231.3 1064.8L232.3 1065.0L233.3 1064.0L234.3 1065.4L235.3 1065.2L236.3 1065.9L237.3 1064.7L238.3 1064.9L239.3 1064.4L240.3 1063.3L241.3 1062.7L242.3 1062.1L243.3 1061.2L244.3 1061.0L245.3 1060.3L246.3 1061.0L247.3 1061.3L248.3 1062.4L249.3 1061.4L250.3 1063.9L251.3 1063.1L252.3 1063.7L253.3 1064.7L254.3 1065.0L255.3 1067.0L256.3 1067.7L257.3 1068.7L258.3 1070.3L259.3 1073.4L260.3 1074.0L261.3 1074.3L262.3 1075.5L263.3 1074.9L264.3 1077.6L265.3 1075.7L266.3 1077.5L267.3 1078.0L268.3 1077.0L269.3 1078.6L270.3 1079.4L271.3 1079.4L272.3 1079.5L273.3 1080.3L274.3 1080.1L275.3 1080.5L276.3 1080.5L277.3 1081.3L278.3 1080.6L279.3 1082.0L280.3 1081.5L281.3 1081.5L282.3 1083.0L283.3 1083.8L284.3 1083.8L285.3 1083.7L286.3 1083.8L287.3 1083.7L288.3 1083.8L289.3 1083.8L290.3 1082.6L291.3 1083.8L292.3 1083.4L293.3 1083.6L294.3 1083.1L295.3 1083.1L296.3 1083.4L297.3 1083.8L298.3 1083.8L299.3 1083.8L300.3 1083.8L301.3 1083.8L302.3 1082.9L303.3 1083.8L304.3 1083.8L305.3 1083.7L306.3 1083.8L307.3 1083.8L308.3 1083.5L309.3 1083.1L310.3 1083.8L311.3 1083.8L312.3 1083.8L313.3 1083.8L314.3 1083.8L315.3 1083.8L316.3 1083.8L317.3 1083.8L318.3 1083.8L319.3 1083.8L320.3 1083.8L321.3 1083.8L322.3 1083.8L323.3 1083.8L324.3 1083.6L325.3 1083.8L326.3 1083.8L327.3 1083.8L328.3 1083.7L329.3 1083.8L330.3 1083.3L331.3 1083.8L332.3 1083.8L333.3 1083.3L334.3 1083.8L335.3 1083.8L336.3 1083.3L337.3 1083.8L338.3 1083.7L339.3 1082.9L340.3 1083.6L341.3 1083.8L342.3 1083.8L343.3 1083.8L344.3 1083.8L345.3 1083.8L346.3 1083.8L347.3 1083.8L348.3 1083.8L349.3 1083.8L350.3 1083.8L351.3 1083.4L352.3 1083.6L353.3 1083.8L354.3 1083.8L355.3 1083.8L356.3 1083.8L357.3 1083.7L358.3 1083.8L359.3 1083.6L360.3 1083.8L361.3 1083.1L362.3 1083.8L363.3 1083.7L364.3 1083.1L365.3 1083.8L366.3 1083.8L367.3 1083.8L368.3 1083.3L369.3 1083.8L370.3 1083.8L371.3 1083.2L372.3 1083.8L373.3 1083.8L374.3 1083.8L375.3 1082.9L376.3 1083.3L377.3 1083.8L378.3 1083.8L379.3 1083.8L380.3 1083.6L381.3 1083.8L382.3 1083.8L383.3 1083.5L384.3 1083.5L385.3 1083.8L386.3 1083.8L387.3 1083.8L388.3 1083.8L389.3 1083.5L390.3 1083.8L391.3 1083.8L392.3 1083.8L393.3 1082.3L394.3 1083.8L395.3 1083.5L396.3 1083.8L397.3 1083.8L398.3 1083.8L399.3 1083.8L400.3 1083.8L401.3 1083.8L402.3 1083.8L403.3 1083.8L404.3 1083.8L405.3 1083.8L406.3 1083.8L407.3 1083.8L408.3 1083.8L409.3 1083.8L410.3 1083.5L411.3 1083.7L412.3 1083.6L413.3 1082.3L414.3 1083.8L415.3 1083.8L416.3 1083.8L417.3 1083.8L418.3 1083.8L419.3 1083.8L420.3 1082.5L421.3 1083.8L422.3 1083.8L423.3 1083.8L424.3 1083.8L425.3 1083.8L426.3 1083.3L427.3 1082.7L428.3 1083.8L429.3 1083.8L430.3 1083.8L431.3 1083.8L432.3 1083.8L432.4 1083.8Z" fill="#4500c5" stroke="#0a0a10" stroke-width="2.8" stroke-linejoin="round"/><rect x="65.1" y="1032.0" width="4.2" height="51.8" fill="#111"/><rect x="65.1" y="1055.3" width="5.8" height="28.5" fill="#111"/><rect x="66.3" y="773.0" width="367.1" height="311.3" rx="1.5" fill="none" stroke="#141414" stroke-width="2.4"/><path d="M56.3 1083.8H66.3M61.3 1071.4H66.3M61.3 1059.1H66.3M61.3 1046.7H66.3M61.3 1034.4H66.3M56.3 1022.0H66.3M61.3 1009.7H66.3M61.3 997.3H66.3M61.3 985.0H66.3M61.3 972.6H66.3M56.3 960.2H66.3M61.3 947.9H66.3M61.3 935.5H66.3M61.3 923.2H66.3M61.3 910.8H66.3M56.3 898.5H66.3M61.3 886.1H66.3M61.3 873.7H66.3M61.3 861.4H66.3M61.3 849.0H66.3M56.3 836.7H66.3M61.3 824.3H66.3M61.3 812.0H66.3M61.3 799.6H66.3M61.3 787.3H66.3M56.3 774.9H66.3M68.0 1084.3V1094.3M95.4 1084.3V1089.3M111.4 1084.3V1089.3M122.8 1084.3V1089.3M131.6 1084.3V1089.3M138.8 1084.3V1089.3M144.9 1084.3V1089.3M150.2 1084.3V1089.3M154.8 1084.3V1089.3M159.0 1084.3V1094.3M186.4 1084.3V1089.3M202.4 1084.3V1089.3M213.8 1084.3V1089.3M222.6 1084.3V1089.3M229.8 1084.3V1089.3M235.9 1084.3V1089.3M241.2 1084.3V1089.3M245.8 1084.3V1089.3M250.0 1084.3V1094.3M277.4 1084.3V1089.3M293.4 1084.3V1089.3M304.8 1084.3V1089.3M313.6 1084.3V1089.3M320.8 1084.3V1089.3M326.9 1084.3V1089.3M332.2 1084.3V1089.3M336.8 1084.3V1089.3M341.0 1084.3V1094.3M368.4 1084.3V1089.3M384.4 1084.3V1089.3M395.8 1084.3V1089.3M404.6 1084.3V1089.3M411.8 1084.3V1089.3M417.9 1084.3V1089.3M423.2 1084.3V1089.3M427.8 1084.3V1089.3M432.0 1084.3V1094.3" stroke="#141414" stroke-width="2" fill="none"/><text transform="translate(41.8,1083.8) rotate(-90) scale(1.150,1.380)" x="0" y="5.73" text-anchor="middle" font-size="16" font-weight="normal" fill="#222" stroke="#222" stroke-width="0.35">0</text><text transform="translate(41.8,1022.0) rotate(-90) scale(1.150,1.380)" x="0" y="5.73" text-anchor="middle" font-size="16" font-weight="normal" fill="#222" stroke="#222" stroke-width="0.35">40</text><text transform="translate(41.8,960.2) rotate(-90) scale(1.150,1.380)" x="0" y="5.73" text-anchor="middle" font-size="16" font-weight="normal" fill="#222" stroke="#222" stroke-width="0.35">80</text><text transform="translate(41.8,898.5) rotate(-90) scale(1.150,1.380)" x="0" y="5.73" text-anchor="middle" font-size="16" font-weight="normal" fill="#222" stroke="#222" stroke-width="0.35">120</text><text transform="translate(41.8,836.7) rotate(-90) scale(1.150,1.380)" x="0" y="5.73" text-anchor="middle" font-size="16" font-weight="normal" fill="#222" stroke="#222" stroke-width="0.35">160</text><text transform="translate(41.8,774.9) rotate(-90) scale(1.150,1.380)" x="0" y="5.73" text-anchor="middle" font-size="16" font-weight="normal" fill="#222" stroke="#222" stroke-width="0.35">200</text><text transform="translate(63.4,1112.9) scale(1.120,1.250)" x="0" y="5.73" text-anchor="middle" font-size="16" font-weight="normal" fill="#222" stroke="#222" stroke-width="0.35">10</text><text transform="translate(80.0,1104.1) scale(1.300,1.200)" x="0" y="5.73" text-anchor="middle" font-size="16" font-weight="normal" fill="#222" stroke="#222" stroke-width="0.35">0</text><text transform="translate(154.4,1112.9) scale(1.120,1.250)" x="0" y="5.73" text-anchor="middle" font-size="16" font-weight="normal" fill="#222" stroke="#222" stroke-width="0.35">10</text><text transform="translate(171.0,1104.1) scale(1.300,1.200)" x="0" y="5.73" text-anchor="middle" font-size="16" font-weight="normal" fill="#222" stroke="#222" stroke-width="0.35">1</text><text transform="translate(245.4,1112.9) scale(1.120,1.250)" x="0" y="5.73" text-anchor="middle" font-size="16" font-weight="normal" fill="#222" stroke="#222" stroke-width="0.35">10</text><text transform="translate(262.0,1104.1) scale(1.300,1.200)" x="0" y="5.73" text-anchor="middle" font-size="16" font-weight="normal" fill="#222" stroke="#222" stroke-width="0.35">2</text><text transform="translate(336.4,1112.9) scale(1.120,1.250)" x="0" y="5.73" text-anchor="middle" font-size="16" font-weight="normal" fill="#222" stroke="#222" stroke-width="0.35">10</text><text transform="translate(353.0,1104.1) scale(1.300,1.200)" x="0" y="5.73" text-anchor="middle" font-size="16" font-weight="normal" fill="#222" stroke="#222" stroke-width="0.35">3</text><text transform="translate(427.4,1112.9) scale(1.120,1.250)" x="0" y="5.73" text-anchor="middle" font-size="16" font-weight="normal" fill="#222" stroke="#222" stroke-width="0.35">10</text><text transform="translate(444.0,1104.1) scale(1.300,1.200)" x="0" y="5.73" text-anchor="middle" font-size="16" font-weight="normal" fill="#222" stroke="#222" stroke-width="0.35">4</text><path d="M138.1 931.4H290.7M138.1 912.7V950.6M290.7 912.7V950.6" stroke="#141414" stroke-width="2.4" fill="none"/><text transform="translate(227.3,947.7) scale(1.300,1.100)" x="0" y="5.73" text-anchor="middle" font-size="16" font-weight="normal" fill="#222" stroke="#222" stroke-width="0.35">M1</text><text transform="translate(20.0,933.6) rotate(-90) scale(1.220,1.200)" x="0" y="5.73" text-anchor="middle" font-size="16" font-weight="normal" fill="#222" stroke="#222" stroke-width="0.35">Counts</text><path d="M541.8 1075.4L541.8 1074.0L542.8 1074.6L543.8 1074.4L544.8 1074.4L545.8 1074.9L546.8 1073.1L547.8 1073.4L548.8 1072.9L549.8 1073.7L550.8 1074.3L551.8 1073.6L552.8 1073.9L553.8 1072.4L554.8 1073.7L555.8 1073.0L556.8 1074.6L557.8 1074.0L558.8 1074.0L559.8 1073.4L560.8 1073.7L561.8 1073.7L562.8 1073.1L563.8 1072.9L564.8 1073.1L565.8 1072.8L566.8 1072.8L567.8 1072.9L568.8 1072.6L569.8 1073.5L570.8 1072.0L571.8 1073.5L572.8 1072.5L573.8 1072.6L574.8 1072.0L575.8 1072.7L576.8 1072.6L577.8 1072.9L578.8 1072.4L579.8 1072.8L580.8 1073.8L581.8 1072.9L582.8 1072.2L583.8 1073.2L584.8 1072.4L585.8 1072.9L586.8 1072.8L587.8 1072.2L588.8 1071.2L589.8 1072.1L590.8 1072.7L591.8 1072.0L592.8 1072.5L593.8 1072.8L594.8 1071.8L595.8 1072.9L596.8 1073.1L597.8 1072.8L598.8 1072.8L599.8 1072.7L600.8 1073.3L601.8 1071.9L602.8 1071.7L603.8 1071.9L604.8 1070.8L605.8 1070.3L606.8 1070.6L607.8 1071.3L608.8 1071.2L609.8 1069.8L610.8 1069.4L611.8 1070.3L612.8 1070.3L613.8 1070.2L614.8 1070.6L615.8 1070.8L616.8 1070.1L617.8 1070.2L618.8 1068.9L619.8 1068.7L620.8 1069.7L621.8 1069.9L622.8 1070.0L623.8 1069.9L624.8 1070.0L625.8 1070.0L626.8 1068.3L627.8 1069.0L628.8 1069.8L629.8 1069.9L630.8 1068.5L631.8 1070.3L632.8 1069.2L633.8 1069.3L634.8 1069.7L635.8 1070.0L636.8 1068.5L637.8 1069.6L638.8 1068.3L639.8 1067.2L640.8 1066.9L641.8 1064.9L642.8 1065.4L643.8 1065.4L644.8 1064.2L645.8 1064.1L646.8 1063.9L647.8 1063.8L648.8 1064.3L649.8 1063.2L650.8 1062.8L651.8 1063.1L652.8 1064.0L653.8 1061.9L654.8 1062.3L655.8 1060.4L656.8 1062.4L657.8 1061.6L658.8 1061.9L659.8 1060.5L660.8 1059.5L661.8 1060.8L662.8 1060.4L663.8 1058.8L664.8 1058.1L665.8 1059.4L666.8 1058.6L667.8 1060.6L668.8 1057.7L669.8 1057.5L670.8 1055.7L671.8 1050.3L672.8 1050.3L673.8 1052.8L674.8 1051.4L675.8 1051.1L676.8 1050.7L677.8 1052.5L678.8 1052.7L679.8 1052.6L680.8 1052.2L681.8 1052.9L682.8 1049.5L683.8 1044.0L684.8 1040.9L685.8 1035.0L686.8 1034.8L687.8 1034.9L688.8 1034.1L689.8 1031.9L690.8 1032.6L691.8 1032.4L692.8 1029.1L693.8 1025.9L694.8 1023.7L695.8 1020.3L696.8 1015.4L697.8 1013.8L698.8 1012.9L699.8 1006.7L700.8 1005.5L701.8 1002.0L702.8 998.4L703.8 995.3L704.8 994.1L705.8 991.6L706.8 988.8L707.8 980.5L708.8 976.0L709.8 970.8L710.8 965.6L711.8 958.6L712.8 952.1L713.8 946.0L714.8 938.6L715.8 928.8L716.8 926.4L717.8 920.1L718.8 911.5L719.8 908.8L720.8 914.1L721.8 901.3L722.8 893.8L723.8 880.7L724.8 883.6L725.8 877.8L726.8 878.0L727.8 874.9L728.8 874.3L729.8 877.2L730.8 877.2L731.8 876.0L732.8 880.4L733.8 882.4L734.8 880.0L735.8 882.9L736.8 884.2L737.8 882.9L738.8 889.6L739.8 887.2L740.8 887.3L741.8 885.7L742.8 888.3L743.8 897.5L744.8 891.5L745.8 897.3L746.8 896.6L747.8 900.8L748.8 903.3L749.8 901.9L750.8 905.5L751.8 908.8L752.8 911.1L753.8 913.1L754.8 915.0L755.8 920.0L756.8 924.4L757.8 925.2L758.8 924.8L759.8 930.2L760.8 932.1L761.8 937.1L762.8 944.1L763.8 943.6L764.8 948.0L765.8 950.2L766.8 955.5L767.8 957.3L768.8 960.1L769.8 955.9L770.8 952.5L771.8 956.5L772.8 953.0L773.8 960.6L774.8 964.0L775.8 966.3L776.8 967.9L777.8 971.6L778.8 975.5L779.8 981.8L780.8 980.8L781.8 988.1L782.8 993.2L783.8 995.1L784.8 996.3L785.8 1001.7L786.8 1004.0L787.8 1009.6L788.8 1015.4L789.8 1018.6L790.8 1021.2L791.8 1028.4L792.8 1032.0L793.8 1036.1L794.8 1039.5L795.8 1040.3L796.8 1044.4L797.8 1046.1L798.8 1047.6L799.8 1048.5L800.8 1051.8L801.8 1052.8L802.8 1057.0L803.8 1057.0L804.8 1058.8L805.8 1058.6L806.8 1057.6L807.8 1060.4L808.8 1061.3L809.8 1062.6L810.8 1061.3L811.8 1062.1L812.8 1063.6L813.8 1063.5L814.8 1064.0L815.8 1065.0L816.8 1068.3L817.8 1066.8L818.8 1067.3L819.8 1068.4L820.8 1069.4L821.8 1070.4L822.8 1070.2L823.8 1070.1L824.8 1069.6L825.8 1069.7L826.8 1069.1L827.8 1068.6L828.8 1070.9L829.8 1069.3L830.8 1070.2L831.8 1069.4L832.8 1069.5L833.8 1069.5L834.8 1068.6L835.8 1069.5L836.8 1069.8L837.8 1070.1L838.8 1070.1L839.8 1070.7L840.8 1070.4L841.8 1070.4L842.8 1069.4L843.8 1070.5L844.8 1072.1L845.8 1071.4L846.8 1072.1L847.8 1071.7L848.8 1071.6L849.8 1073.6L850.8 1072.7L851.8 1073.6L852.8 1073.3L853.8 1073.0L854.8 1072.0L855.8 1073.7L856.8 1072.9L857.8 1072.7L858.8 1075.0L859.8 1074.9L860.8 1075.0L861.8 1074.6L862.8 1074.6L863.8 1074.9L864.8 1074.7L865.8 1074.7L866.8 1075.1L867.8 1073.2L868.8 1075.2L869.8 1074.3L870.8 1075.2L871.8 1075.4L872.8 1074.2L873.8 1075.3L874.8 1075.3L875.8 1074.4L876.8 1074.5L877.8 1074.9L878.8 1073.5L879.8 1074.6L880.8 1075.0L881.8 1074.6L882.8 1073.9L883.8 1074.7L884.8 1075.4L885.8 1075.4L886.8 1074.9L887.8 1074.5L888.8 1075.0L889.8 1075.0L890.8 1074.6L891.8 1074.8L892.8 1075.4L893.8 1075.4L894.8 1073.6L895.8 1075.4L896.8 1075.2L897.8 1075.4L898.8 1075.1L899.8 1075.4L900.8 1075.4L901.8 1073.4L902.8 1075.4L903.8 1075.4L904.8 1074.2L905.8 1073.7L906.8 1075.4L907.8 1074.7L908.8 1075.4L909.8 1075.4L910.8 1075.3L911.8 1075.4L912.8 1075.4L913.8 1075.4L914.8 1075.4L915.8 1075.4L916.8 1075.4L917.8 1075.4L918.4 1075.4Z" fill="#4500c5" stroke="#0a0a10" stroke-width="2.8" stroke-linejoin="round"/><rect x="539.6" y="989.0" width="4.2" height="86.4" fill="#111"/><rect x="539.6" y="1027.9" width="5.8" height="47.5" fill="#111"/><rect x="540.8" y="779.7" width="378.6" height="296.0" rx="1.5" fill="none" stroke="#141414" stroke-width="2.4"/><path d="M530.8 1075.4H540.8M535.8 1063.6H540.8M535.8 1051.9H540.8M535.8 1040.1H540.8M535.8 1028.4H540.8M530.8 1016.6H540.8M535.8 1004.9H540.8M535.8 993.1H540.8M535.8 981.4H540.8M535.8 969.6H540.8M530.8 957.9H540.8M535.8 946.1H540.8M535.8 934.4H540.8M535.8 922.6H540.8M535.8 910.9H540.8M530.8 899.1H540.8M535.8 887.4H540.8M535.8 875.6H540.8M535.8 863.9H540.8M535.8 852.1H540.8M530.8 840.4H540.8M535.8 828.6H540.8M535.8 816.9H540.8M535.8 805.1H540.8M535.8 793.4H540.8M530.8 781.6H540.8M542.2 1075.7V1085.7M570.4 1075.7V1080.7M586.9 1075.7V1080.7M598.6 1075.7V1080.7M607.7 1075.7V1080.7M615.1 1075.7V1080.7M621.4 1075.7V1080.7M626.8 1075.7V1080.7M631.6 1075.7V1080.7M635.9 1075.7V1085.7M664.1 1075.7V1080.7M680.6 1075.7V1080.7M692.3 1075.7V1080.7M701.4 1075.7V1080.7M708.8 1075.7V1080.7M715.0 1075.7V1080.7M720.5 1075.7V1080.7M725.3 1075.7V1080.7M729.5 1075.7V1085.7M757.7 1075.7V1080.7M774.2 1075.7V1080.7M785.9 1075.7V1080.7M795.0 1075.7V1080.7M802.4 1075.7V1080.7M808.7 1075.7V1080.7M814.1 1075.7V1080.7M818.9 1075.7V1080.7M823.2 1075.7V1085.7M851.4 1075.7V1080.7M867.9 1075.7V1080.7M879.6 1075.7V1080.7M888.7 1075.7V1080.7M896.1 1075.7V1080.7M902.4 1075.7V1080.7M907.8 1075.7V1080.7M912.6 1075.7V1080.7M916.9 1075.7V1085.7" stroke="#141414" stroke-width="2" fill="none"/><text transform="translate(513.5,1075.4) rotate(-90) scale(1.150,1.380)" x="0" y="5.73" text-anchor="middle" font-size="16" font-weight="normal" fill="#222" stroke="#222" stroke-width="0.35">0</text><text transform="translate(513.5,1016.6) rotate(-90) scale(1.150,1.380)" x="0" y="5.73" text-anchor="middle" font-size="16" font-weight="normal" fill="#222" stroke="#222" stroke-width="0.35">40</text><text transform="translate(513.5,957.9) rotate(-90) scale(1.150,1.380)" x="0" y="5.73" text-anchor="middle" font-size="16" font-weight="normal" fill="#222" stroke="#222" stroke-width="0.35">80</text><text transform="translate(513.5,899.1) rotate(-90) scale(1.150,1.380)" x="0" y="5.73" text-anchor="middle" font-size="16" font-weight="normal" fill="#222" stroke="#222" stroke-width="0.35">120</text><text transform="translate(513.5,840.4) rotate(-90) scale(1.150,1.380)" x="0" y="5.73" text-anchor="middle" font-size="16" font-weight="normal" fill="#222" stroke="#222" stroke-width="0.35">160</text><text transform="translate(513.5,781.6) rotate(-90) scale(1.150,1.380)" x="0" y="5.73" text-anchor="middle" font-size="16" font-weight="normal" fill="#222" stroke="#222" stroke-width="0.35">200</text><text transform="translate(537.6,1104.3) scale(1.120,1.250)" x="0" y="5.73" text-anchor="middle" font-size="16" font-weight="normal" fill="#222" stroke="#222" stroke-width="0.35">10</text><text transform="translate(554.2,1095.5) scale(1.300,1.200)" x="0" y="5.73" text-anchor="middle" font-size="16" font-weight="normal" fill="#222" stroke="#222" stroke-width="0.35">0</text><text transform="translate(631.3,1104.3) scale(1.120,1.250)" x="0" y="5.73" text-anchor="middle" font-size="16" font-weight="normal" fill="#222" stroke="#222" stroke-width="0.35">10</text><text transform="translate(647.9,1095.5) scale(1.300,1.200)" x="0" y="5.73" text-anchor="middle" font-size="16" font-weight="normal" fill="#222" stroke="#222" stroke-width="0.35">1</text><text transform="translate(724.9,1104.3) scale(1.120,1.250)" x="0" y="5.73" text-anchor="middle" font-size="16" font-weight="normal" fill="#222" stroke="#222" stroke-width="0.35">10</text><text transform="translate(741.5,1095.5) scale(1.300,1.200)" x="0" y="5.73" text-anchor="middle" font-size="16" font-weight="normal" fill="#222" stroke="#222" stroke-width="0.35">2</text><text transform="translate(818.6,1104.3) scale(1.120,1.250)" x="0" y="5.73" text-anchor="middle" font-size="16" font-weight="normal" fill="#222" stroke="#222" stroke-width="0.35">10</text><text transform="translate(835.2,1095.5) scale(1.300,1.200)" x="0" y="5.73" text-anchor="middle" font-size="16" font-weight="normal" fill="#222" stroke="#222" stroke-width="0.35">3</text><text transform="translate(912.3,1104.3) scale(1.120,1.250)" x="0" y="5.73" text-anchor="middle" font-size="16" font-weight="normal" fill="#222" stroke="#222" stroke-width="0.35">10</text><text transform="translate(928.9,1095.5) scale(1.300,1.200)" x="0" y="5.73" text-anchor="middle" font-size="16" font-weight="normal" fill="#222" stroke="#222" stroke-width="0.35">4</text><path d="M621.6 824.4H848.1M621.6 804.7V844M848.1 804.7V844" stroke="#141414" stroke-width="2.4" fill="none"/><text transform="translate(750.6,839.0) scale(1.300,1.100)" x="0" y="5.73" text-anchor="middle" font-size="16" font-weight="normal" fill="#222" stroke="#222" stroke-width="0.35">M1</text><text transform="translate(490.5,931.7) rotate(-90) scale(1.220,1.200)" x="0" y="5.73" text-anchor="middle" font-size="16" font-weight="normal" fill="#222" stroke="#222" stroke-width="0.35">Counts</text><path d="M1036.5 1082.4L1036.5 1082.1L1037.5 1079.1L1038.5 1081.5L1039.5 1080.9L1040.5 1081.7L1041.5 1081.0L1042.5 1081.9L1043.5 1080.7L1044.5 1080.3L1045.5 1081.0L1046.5 1080.8L1047.5 1080.3L1048.5 1080.3L1049.5 1080.9L1050.5 1080.8L1051.5 1080.0L1052.5 1080.1L1053.5 1079.1L1054.5 1081.2L1055.5 1080.0L1056.5 1080.9L1057.5 1080.3L1058.5 1081.2L1059.5 1080.9L1060.5 1080.1L1061.5 1080.8L1062.5 1079.2L1063.5 1080.6L1064.5 1078.8L1065.5 1079.9L1066.5 1080.3L1067.5 1079.7L1068.5 1079.3L1069.5 1079.0L1070.5 1079.2L1071.5 1080.1L1072.5 1079.9L1073.5 1079.2L1074.5 1078.5L1075.5 1079.7L1076.5 1078.3L1077.5 1078.8L1078.5 1078.6L1079.5 1079.5L1080.5 1079.1L1081.5 1079.2L1082.5 1079.1L1083.5 1078.4L1084.5 1079.2L1085.5 1079.7L1086.5 1078.7L1087.5 1079.1L1088.5 1078.5L1089.5 1079.2L1090.5 1079.0L1091.5 1079.1L1092.5 1078.7L1093.5 1079.5L1094.5 1078.1L1095.5 1078.1L1096.5 1077.9L1097.5 1078.6L1098.5 1077.8L1099.5 1077.7L1100.5 1078.5L1101.5 1078.6L1102.5 1078.1L1103.5 1075.8L1104.5 1076.8L1105.5 1076.6L1106.5 1076.3L1107.5 1076.7L1108.5 1078.0L1109.5 1076.5L1110.5 1076.0L1111.5 1076.9L1112.5 1076.3L1113.5 1076.2L1114.5 1075.5L1115.5 1075.8L1116.5 1075.9L1117.5 1074.2L1118.5 1074.3L1119.5 1076.1L1120.5 1075.8L1121.5 1074.8L1122.5 1074.3L1123.5 1074.8L1124.5 1074.0L1125.5 1074.5L1126.5 1075.8L1127.5 1074.6L1128.5 1075.3L1129.5 1074.2L1130.5 1074.5L1131.5 1075.1L1132.5 1073.1L1133.5 1073.7L1134.5 1073.7L1135.5 1074.0L1136.5 1074.8L1137.5 1074.0L1138.5 1072.4L1139.5 1073.2L1140.5 1072.6L1141.5 1072.5L1142.5 1074.5L1143.5 1072.2L1144.5 1073.0L1145.5 1072.3L1146.5 1073.3L1147.5 1072.8L1148.5 1072.6L1149.5 1072.3L1150.5 1073.0L1151.5 1070.8L1152.5 1070.3L1153.5 1069.3L1154.5 1070.5L1155.5 1068.6L1156.5 1067.3L1157.5 1067.1L1158.5 1068.8L1159.5 1066.1L1160.5 1066.3L1161.5 1066.3L1162.5 1066.1L1163.5 1065.9L1164.5 1066.4L1165.5 1066.6L1166.5 1065.4L1167.5 1068.3L1168.5 1065.0L1169.5 1062.3L1170.5 1060.1L1171.5 1057.5L1172.5 1058.4L1173.5 1058.0L1174.5 1059.3L1175.5 1058.3L1176.5 1060.5L1177.5 1060.7L1178.5 1054.6L1179.5 1051.6L1180.5 1047.3L1181.5 1049.7L1182.5 1050.9L1183.5 1051.2L1184.5 1051.9L1185.5 1054.1L1186.5 1050.5L1187.5 1046.5L1188.5 1044.3L1189.5 1040.9L1190.5 1036.1L1191.5 1036.0L1192.5 1038.5L1193.5 1035.1L1194.5 1033.2L1195.5 1035.1L1196.5 1030.5L1197.5 1026.9L1198.5 1025.9L1199.5 1024.6L1200.5 1025.2L1201.5 1024.5L1202.5 1018.7L1203.5 1021.4L1204.5 1016.6L1205.5 1017.0L1206.5 1015.6L1207.5 1013.7L1208.5 1010.4L1209.5 1008.0L1210.5 1003.3L1211.5 1002.8L1212.5 1001.6L1213.5 1000.7L1214.5 1002.6L1215.5 999.3L1216.5 997.9L1217.5 999.1L1218.5 998.6L1219.5 998.0L1220.5 998.4L1221.5 1005.7L1222.5 1005.7L1223.5 1004.6L1224.5 1001.1L1225.5 1000.5L1226.5 1001.4L1227.5 997.9L1228.5 1000.7L1229.5 1006.9L1230.5 1014.6L1231.5 1014.2L1232.5 1014.8L1233.5 1018.0L1234.5 1021.9L1235.5 1027.4L1236.5 1029.1L1237.5 1030.7L1238.5 1032.8L1239.5 1036.8L1240.5 1039.4L1241.5 1041.9L1242.5 1045.3L1243.5 1047.8L1244.5 1053.3L1245.5 1052.4L1246.5 1057.7L1247.5 1059.7L1248.5 1062.2L1249.5 1062.4L1250.5 1063.9L1251.5 1065.0L1252.5 1065.8L1253.5 1067.4L1254.5 1066.5L1255.5 1069.3L1256.5 1069.4L1257.5 1070.9L1258.5 1072.7L1259.5 1073.4L1260.5 1075.0L1261.5 1073.0L1262.5 1074.9L1263.5 1077.2L1264.5 1076.6L1265.5 1077.3L1266.5 1078.6L1267.5 1078.2L1268.5 1077.0L1269.5 1078.0L1270.5 1078.3L1271.5 1078.0L1272.5 1077.9L1273.5 1078.2L1274.5 1077.2L1275.5 1078.3L1276.5 1077.7L1277.5 1078.7L1278.5 1078.8L1279.5 1078.0L1280.5 1079.1L1281.5 1079.0L1282.5 1078.8L1283.5 1079.4L1284.5 1078.9L1285.5 1079.3L1286.5 1079.9L1287.5 1080.2L1288.5 1081.4L1289.5 1079.6L1290.5 1081.2L1291.5 1080.6L1292.5 1081.9L1293.5 1082.4L1294.5 1082.3L1295.5 1082.4L1296.5 1082.4L1297.5 1080.7L1298.5 1081.6L1299.5 1082.4L1300.5 1082.4L1301.5 1082.4L1302.5 1081.4L1303.5 1082.4L1304.5 1081.1L1305.5 1082.4L1306.5 1082.3L1307.5 1082.4L1308.5 1081.6L1309.5 1082.1L1310.5 1082.4L1311.5 1082.1L1312.5 1081.5L1313.5 1082.4L1314.5 1082.4L1315.5 1082.3L1316.5 1081.9L1317.5 1082.4L1318.5 1082.3L1319.5 1081.7L1320.5 1082.4L1321.5 1082.4L1322.5 1082.4L1323.5 1081.4L1324.5 1082.0L1325.5 1082.4L1326.5 1082.4L1327.5 1082.4L1328.5 1082.4L1329.5 1082.4L1330.5 1082.4L1331.5 1082.4L1332.5 1082.4L1333.5 1082.2L1334.5 1082.4L1335.5 1081.4L1336.5 1082.4L1337.5 1082.3L1338.5 1082.4L1339.5 1082.4L1340.5 1082.4L1341.5 1081.7L1342.5 1082.4L1343.5 1082.1L1344.5 1082.4L1345.5 1082.4L1346.5 1082.0L1347.5 1082.4L1348.5 1082.4L1349.5 1082.4L1350.5 1082.4L1351.5 1081.7L1352.5 1082.3L1353.5 1082.4L1354.5 1081.6L1355.5 1082.4L1356.5 1082.1L1357.5 1082.4L1358.5 1082.4L1359.5 1082.3L1360.5 1082.4L1361.5 1081.1L1362.5 1082.4L1363.5 1082.4L1364.5 1082.4L1365.5 1081.3L1366.5 1082.4L1367.5 1082.4L1368.5 1081.2L1369.5 1082.3L1370.5 1082.4L1371.5 1082.4L1372.5 1082.4L1373.5 1082.4L1374.5 1082.4L1375.5 1082.4L1376.5 1082.4L1377.5 1082.2L1378.5 1082.4L1379.5 1082.4L1380.5 1082.4L1381.5 1082.4L1382.5 1082.4L1383.5 1082.4L1384.5 1082.4L1385.5 1082.3L1386.5 1082.3L1387.5 1082.4L1388.5 1082.4L1389.5 1082.4L1390.5 1082.4L1391.5 1082.4L1392.5 1082.4L1393.5 1082.4L1394.5 1082.4L1395.5 1082.4L1396.5 1082.4L1397.5 1082.4L1398.5 1082.4L1399.5 1082.4L1400.5 1082.4L1401.5 1082.4L1402.5 1082.4L1403.5 1082.4L1404.5 1082.2L1405.5 1082.0L1406.5 1082.4L1407.5 1082.4L1408.5 1082.4L1409.5 1081.9L1410.5 1082.4L1411.5 1082.0L1412.0 1082.4Z" fill="#4500c5" stroke="#0a0a10" stroke-width="2.8" stroke-linejoin="round"/><rect x="1034.3" y="949.0" width="4.2" height="133.4" fill="#111"/><rect x="1034.3" y="1009.0" width="5.8" height="73.4" fill="#111"/><rect x="1035.5" y="774.2" width="377.5" height="309.0" rx="1.5" fill="none" stroke="#141414" stroke-width="2.4"/><path d="M1025.5 1082.4H1035.5M1030.5 1070.2H1035.5M1030.5 1057.9H1035.5M1030.5 1045.7H1035.5M1030.5 1033.4H1035.5M1025.5 1021.2H1035.5M1030.5 1008.9H1035.5M1030.5 996.7H1035.5M1030.5 984.4H1035.5M1030.5 972.2H1035.5M1025.5 959.9H1035.5M1030.5 947.7H1035.5M1030.5 935.4H1035.5M1030.5 923.2H1035.5M1030.5 910.9H1035.5M1025.5 898.7H1035.5M1030.5 886.4H1035.5M1030.5 874.2H1035.5M1030.5 861.9H1035.5M1030.5 849.7H1035.5M1025.5 837.4H1035.5M1030.5 825.2H1035.5M1030.5 812.9H1035.5M1030.5 800.7H1035.5M1030.5 788.4H1035.5M1025.5 776.2H1035.5M1036.6 1083.2V1093.2M1064.8 1083.2V1088.2M1081.3 1083.2V1088.2M1093.0 1083.2V1088.2M1102.0 1083.2V1088.2M1109.5 1083.2V1088.2M1115.7 1083.2V1088.2M1121.2 1083.2V1088.2M1125.9 1083.2V1088.2M1130.2 1083.2V1093.2M1158.4 1083.2V1088.2M1174.9 1083.2V1088.2M1186.6 1083.2V1088.2M1195.7 1083.2V1088.2M1203.1 1083.2V1088.2M1209.3 1083.2V1088.2M1214.8 1083.2V1088.2M1219.6 1083.2V1088.2M1223.8 1083.2V1093.2M1252.0 1083.2V1088.2M1268.5 1083.2V1088.2M1280.2 1083.2V1088.2M1289.3 1083.2V1088.2M1296.7 1083.2V1088.2M1303.0 1083.2V1088.2M1308.4 1083.2V1088.2M1313.2 1083.2V1088.2M1317.5 1083.2V1093.2M1345.7 1083.2V1088.2M1362.1 1083.2V1088.2M1373.8 1083.2V1088.2M1382.9 1083.2V1088.2M1390.3 1083.2V1088.2M1396.6 1083.2V1088.2M1402.0 1083.2V1088.2M1406.8 1083.2V1088.2M1411.1 1083.2V1093.2" stroke="#141414" stroke-width="2" fill="none"/><text transform="translate(1009.0,1082.4) rotate(-90) scale(1.150,1.380)" x="0" y="5.73" text-anchor="middle" font-size="16" font-weight="normal" fill="#222" stroke="#222" stroke-width="0.35">0</text><text transform="translate(1009.0,1021.2) rotate(-90) scale(1.150,1.380)" x="0" y="5.73" text-anchor="middle" font-size="16" font-weight="normal" fill="#222" stroke="#222" stroke-width="0.35">50</text><text transform="translate(1009.0,959.9) rotate(-90) scale(1.150,1.380)" x="0" y="5.73" text-anchor="middle" font-size="16" font-weight="normal" fill="#222" stroke="#222" stroke-width="0.35">100</text><text transform="translate(1009.0,898.7) rotate(-90) scale(1.150,1.380)" x="0" y="5.73" text-anchor="middle" font-size="16" font-weight="normal" fill="#222" stroke="#222" stroke-width="0.35">150</text><text transform="translate(1009.0,837.4) rotate(-90) scale(1.150,1.380)" x="0" y="5.73" text-anchor="middle" font-size="16" font-weight="normal" fill="#222" stroke="#222" stroke-width="0.35">200</text><text transform="translate(1009.0,776.2) rotate(-90) scale(1.150,1.380)" x="0" y="5.73" text-anchor="middle" font-size="16" font-weight="normal" fill="#222" stroke="#222" stroke-width="0.35">250</text><text transform="translate(1032.0,1111.8) scale(1.120,1.250)" x="0" y="5.73" text-anchor="middle" font-size="16" font-weight="normal" fill="#222" stroke="#222" stroke-width="0.35">10</text><text transform="translate(1048.6,1103.0) scale(1.300,1.200)" x="0" y="5.73" text-anchor="middle" font-size="16" font-weight="normal" fill="#222" stroke="#222" stroke-width="0.35">0</text><text transform="translate(1125.6,1111.8) scale(1.120,1.250)" x="0" y="5.73" text-anchor="middle" font-size="16" font-weight="normal" fill="#222" stroke="#222" stroke-width="0.35">10</text><text transform="translate(1142.2,1103.0) scale(1.300,1.200)" x="0" y="5.73" text-anchor="middle" font-size="16" font-weight="normal" fill="#222" stroke="#222" stroke-width="0.35">1</text><text transform="translate(1219.2,1111.8) scale(1.120,1.250)" x="0" y="5.73" text-anchor="middle" font-size="16" font-weight="normal" fill="#222" stroke="#222" stroke-width="0.35">10</text><text transform="translate(1235.8,1103.0) scale(1.300,1.200)" x="0" y="5.73" text-anchor="middle" font-size="16" font-weight="normal" fill="#222" stroke="#222" stroke-width="0.35">2</text><text transform="translate(1312.9,1111.8) scale(1.120,1.250)" x="0" y="5.73" text-anchor="middle" font-size="16" font-weight="normal" fill="#222" stroke="#222" stroke-width="0.35">10</text><text transform="translate(1329.5,1103.0) scale(1.300,1.200)" x="0" y="5.73" text-anchor="middle" font-size="16" font-weight="normal" fill="#222" stroke="#222" stroke-width="0.35">3</text><text transform="translate(1406.5,1111.8) scale(1.120,1.250)" x="0" y="5.73" text-anchor="middle" font-size="16" font-weight="normal" fill="#222" stroke="#222" stroke-width="0.35">10</text><text transform="translate(1423.1,1103.0) scale(1.300,1.200)" x="0" y="5.73" text-anchor="middle" font-size="16" font-weight="normal" fill="#222" stroke="#222" stroke-width="0.35">4</text><path d="M1102.1 922H1306.8M1102.1 903.4V942.1M1306.8 903.4V942.1" stroke="#141414" stroke-width="2.4" fill="none"/><text transform="translate(1218.3,937.6) scale(1.300,1.100)" x="0" y="5.73" text-anchor="middle" font-size="16" font-weight="normal" fill="#222" stroke="#222" stroke-width="0.35">M1</text><text transform="translate(987.0,933.7) rotate(-90) scale(1.220,1.200)" x="0" y="5.73" text-anchor="middle" font-size="16" font-weight="normal" fill="#222" stroke="#222" stroke-width="0.35">Counts</text><text x="185.0" y="1178.5" font-size="25.5" font-weight="bold" text-anchor="start" fill="#111">CCR2</text><text x="113.9" y="1217.0" font-size="23" font-weight="bold" text-anchor="start" fill="#111">Gate: G2= Nonclassical</text><text x="113.9" y="1243.5" font-size="23" font-weight="bold" text-anchor="start" fill="#111">Gated Events: 1159</text><text x="113.9" y="1271.2" font-size="23" font-weight="bold" text-anchor="start" fill="#111">Total Events: 45300</text><text x="113.9" y="1325.9" font-size="23" font-weight="bold" text-anchor="start" fill="#111">Marker</text><text x="202.8" y="1325.9" font-size="23" font-weight="bold" text-anchor="start" fill="#111">Geo Mean</text><text x="324.9" y="1325.9" font-size="23" font-weight="bold" text-anchor="start" fill="#111">Median</text><rect x="109.1" y="1329.1" width="299.4" height="3" fill="#111"/><text x="145.2" y="1353.5" font-size="23" font-weight="bold" text-anchor="start" fill="#111">All</text><text x="219.2" y="1353.5" font-size="23" font-weight="bold" text-anchor="start" fill="#111">45.23</text><text x="328.3" y="1353.5" font-size="23" font-weight="bold" text-anchor="start" fill="#111">59.89</text><text x="145.7" y="1381.4" font-size="23" font-weight="bold" text-anchor="start" fill="#111">M1</text><text x="222.7" y="1381.4" font-size="23" font-weight="bold" text-anchor="start" fill="#111">55.01</text><text x="331.0" y="1381.4" font-size="23" font-weight="bold" text-anchor="start" fill="#111">60.98</text><text x="692.2" y="1178.5" font-size="25.5" font-weight="bold" text-anchor="start" fill="#111">CCR2</text><text x="609.1" y="1217.0" font-size="23" font-weight="bold" text-anchor="start" fill="#111">Gate: G3= Intermediate</text><text x="609.1" y="1243.5" font-size="23" font-weight="bold" text-anchor="start" fill="#111">Gated Events: 21303</text><text x="609.1" y="1271.2" font-size="23" font-weight="bold" text-anchor="start" fill="#111">Total Events: 45300</text><text x="609.1" y="1325.9" font-size="23" font-weight="bold" text-anchor="start" fill="#111">Marker</text><text x="697.5" y="1325.9" font-size="23" font-weight="bold" text-anchor="start" fill="#111">Geo Mean</text><text x="819.6" y="1325.9" font-size="23" font-weight="bold" text-anchor="start" fill="#111">Median</text><rect x="603.3" y="1329.1" width="298.5" height="3" fill="#111"/><text x="646.3" y="1353.5" font-size="23" font-weight="bold" text-anchor="start" fill="#111">All</text><text x="720.6" y="1353.5" font-size="23" font-weight="bold" text-anchor="start" fill="#111">117.71</text><text x="822.2" y="1353.5" font-size="23" font-weight="bold" text-anchor="start" fill="#111">120.79</text><text x="647.0" y="1381.4" font-size="23" font-weight="bold" text-anchor="start" fill="#111">M1</text><text x="724.0" y="1381.4" font-size="23" font-weight="bold" text-anchor="start" fill="#111">121.88</text><text x="826.2" y="1381.4" font-size="23" font-weight="bold" text-anchor="start" fill="#111">120.79</text><text x="1177.9" y="1178.5" font-size="25.5" font-weight="bold" text-anchor="start" fill="#111">CCR2</text><text x="1109.1" y="1217.0" font-size="23" font-weight="bold" text-anchor="start" fill="#111">Gate: G4= Classical</text><text x="1109.1" y="1243.5" font-size="23" font-weight="bold" text-anchor="start" fill="#111">Gated Events: 8092</text><text x="1109.1" y="1271.2" font-size="23" font-weight="bold" text-anchor="start" fill="#111">Total Events: 45300</text><text x="1109.1" y="1325.9" font-size="23" font-weight="bold" text-anchor="start" fill="#111">Marker</text><text x="1197.5" y="1325.9" font-size="23" font-weight="bold" text-anchor="start" fill="#111">Geo Mean</text><text x="1320.5" y="1325.9" font-size="23" font-weight="bold" text-anchor="start" fill="#111">Median</text><rect x="1106.2" y="1329.1" width="298.6" height="3" fill="#111"/><text x="1146.8" y="1353.5" font-size="23" font-weight="bold" text-anchor="start" fill="#111">All</text><text x="1220.9" y="1353.5" font-size="23" font-weight="bold" text-anchor="start" fill="#111">59.71</text><text x="1323.6" y="1353.5" font-size="23" font-weight="bold" text-anchor="start" fill="#111">72.34</text><text x="1147.3" y="1381.4" font-size="23" font-weight="bold" text-anchor="start" fill="#111">M1</text><text x="1223.7" y="1381.4" font-size="23" font-weight="bold" text-anchor="start" fill="#111">65.94</text><text x="1327.6" y="1381.4" font-size="23" font-weight="bold" text-anchor="start" fill="#111">73.65</text></svg></body></html>
